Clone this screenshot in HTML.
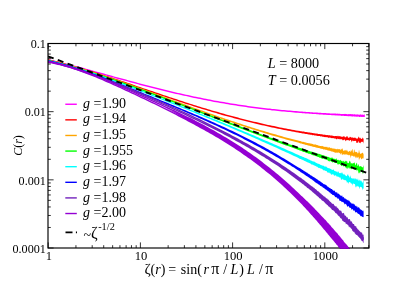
<!DOCTYPE html>
<html><head><meta charset="utf-8"><title>C(r)</title>
<style>
html,body{margin:0;padding:0;background:#fff;}
body{width:415px;height:292px;overflow:hidden;}
svg{display:block;will-change:transform;}
text{font-family:"Liberation Serif",serif;fill:#000;}
.tk{font-size:13.2px;}
.lg{font-size:14px;}
.ax{font-size:14px;}
</style></head><body>
<svg width="415" height="292" viewBox="0 0 415 292">
<rect x="0" y="0" width="415" height="292" fill="#fff"/>
<defs><clipPath id="cp"><rect x="48.0" y="41.5" width="322.5" height="207.2"/></clipPath><clipPath id="cp2"><rect x="332" y="246.5" width="22" height="2.2"/></clipPath></defs>
<g clip-path="url(#cp)">
<polygon points="48.0,59.0 50.0,59.5 52.0,59.9 54.0,60.4 56.0,60.9 58.0,61.4 60.0,61.9 62.0,62.4 64.0,62.9 66.0,63.4 68.0,63.9 70.0,64.4 72.0,65.0 74.0,65.5 76.0,66.0 78.0,66.5 80.0,67.1 82.0,67.6 84.0,68.1 86.0,68.7 88.0,69.2 90.0,69.8 92.0,70.3 94.0,70.9 96.0,71.4 98.0,72.0 100.0,72.5 102.0,73.1 104.0,73.6 106.0,74.2 108.0,74.7 110.0,75.3 112.0,75.8 114.0,76.4 116.0,76.9 118.0,77.5 120.0,78.0 122.0,78.6 124.0,79.1 126.0,79.6 128.0,80.2 130.0,80.7 132.0,81.3 134.0,81.8 136.0,82.3 138.0,82.9 140.0,83.4 142.0,83.9 144.0,84.5 146.0,85.0 148.0,85.5 150.0,86.0 152.0,86.5 154.0,87.0 156.0,87.5 158.0,88.0 160.0,88.5 162.0,89.0 164.0,89.5 166.0,90.0 168.0,90.5 170.0,91.0 172.0,91.5 174.0,91.9 176.0,92.4 178.0,92.9 180.0,93.3 182.0,93.8 184.0,94.2 186.0,94.7 188.0,95.1 190.0,95.5 192.0,96.0 194.0,96.4 196.0,96.8 198.0,97.2 200.0,97.6 202.0,98.0 204.0,98.4 206.0,98.8 208.0,99.2 210.0,99.6 212.0,100.0 214.0,100.4 216.0,100.7 218.0,101.1 220.0,101.4 222.0,101.8 224.0,102.1 226.0,102.5 228.0,102.8 230.0,103.2 232.0,103.5 234.0,103.8 236.0,104.1 238.0,104.4 240.0,104.7 242.0,105.0 244.0,105.3 246.0,105.6 248.0,105.9 250.0,106.2 252.0,106.4 254.0,106.7 256.0,107.0 258.0,107.2 260.0,107.5 262.0,107.7 264.0,108.0 266.0,108.2 268.0,108.4 270.0,108.6 272.0,108.9 274.0,109.1 276.0,109.3 278.0,109.5 280.0,109.7 282.0,109.9 284.0,110.1 286.0,110.3 288.0,110.4 290.0,110.6 292.0,110.8 294.0,111.0 296.0,111.1 298.0,111.3 300.0,111.4 300.5,111.5 301.0,111.5 301.5,111.5 302.0,111.6 302.5,111.6 303.0,111.7 303.5,111.7 304.0,111.7 304.5,111.8 305.0,111.8 305.5,111.8 306.0,111.9 306.5,111.9 307.0,111.9 307.5,112.0 308.0,112.0 308.5,112.0 309.0,112.1 309.5,112.1 310.0,112.2 310.5,112.2 311.0,112.2 311.5,112.3 312.0,112.3 312.5,112.3 313.0,112.4 313.5,112.4 314.0,112.4 314.5,112.4 315.0,112.5 315.5,112.5 316.0,112.5 316.5,112.6 317.0,112.6 317.5,112.6 318.0,112.7 318.5,112.7 319.0,112.7 319.5,112.8 320.0,112.7 320.5,112.8 321.0,112.8 321.5,112.9 322.0,112.9 322.5,112.9 323.0,113.0 323.5,113.0 324.0,113.0 324.5,113.1 325.0,113.1 325.5,113.1 326.0,113.1 326.5,113.2 327.0,113.2 327.5,113.2 328.0,113.2 328.5,113.2 329.0,113.3 329.5,113.3 330.0,113.4 330.5,113.4 331.0,113.4 331.5,113.4 332.0,113.4 332.5,113.5 333.0,113.4 333.5,113.6 334.0,113.5 334.5,113.6 335.0,113.5 335.5,113.5 336.0,113.5 336.5,113.7 337.0,113.7 337.5,113.6 338.0,113.8 338.5,113.7 339.0,113.8 339.5,113.8 340.0,113.8 340.5,113.9 341.0,113.9 341.5,114.0 342.0,113.9 342.5,113.9 343.0,113.9 343.5,114.0 344.0,113.9 344.5,114.1 345.0,113.8 345.5,114.0 346.0,114.1 346.5,114.1 347.0,114.2 347.5,114.2 348.0,114.3 348.5,113.9 349.0,114.3 349.5,114.1 350.0,114.2 350.5,114.0 351.0,114.0 351.5,114.2 352.0,114.3 352.5,114.0 353.0,114.5 353.5,114.2 354.0,114.5 354.5,114.0 355.0,114.6 355.5,114.5 356.0,114.5 356.5,114.6 357.0,114.5 357.5,114.4 358.0,114.2 358.5,114.7 359.0,114.7 359.5,114.7 360.0,114.5 360.5,114.2 361.0,114.7 361.5,114.7 362.0,114.6 362.5,114.7 363.0,114.6 363.5,114.9 364.0,114.8 364.5,114.3 364.8,114.8 364.8,117.0 364.5,116.9 364.0,116.9 363.5,117.1 363.0,116.8 362.5,117.0 362.0,116.9 361.5,116.9 361.0,116.7 360.5,116.7 360.0,116.9 359.5,116.9 359.0,116.9 358.5,116.6 358.0,116.6 357.5,116.7 357.0,116.8 356.5,116.8 356.0,116.5 355.5,116.4 355.0,116.7 354.5,116.4 354.0,116.4 353.5,116.3 353.0,116.4 352.5,116.5 352.0,116.5 351.5,116.2 351.0,116.4 350.5,116.1 350.0,116.5 349.5,116.1 349.0,116.2 348.5,116.3 348.0,116.2 347.5,116.0 347.0,116.2 346.5,116.0 346.0,115.9 345.5,115.9 345.0,116.1 344.5,115.9 344.0,116.0 343.5,115.8 343.0,115.8 342.5,115.8 342.0,115.9 341.5,115.7 341.0,115.9 340.5,115.6 340.0,115.6 339.5,115.6 339.0,115.7 338.5,115.6 338.0,115.4 337.5,115.6 337.0,115.4 336.5,115.4 336.0,115.3 335.5,115.5 335.0,115.4 334.5,115.3 334.0,115.2 333.5,115.2 333.0,115.2 332.5,115.2 332.0,115.2 331.5,115.2 331.0,115.1 330.5,115.0 330.0,115.1 329.5,115.0 329.0,114.9 328.5,115.0 328.0,114.9 327.5,114.9 327.0,114.8 326.5,114.9 326.0,114.8 325.5,114.7 325.0,114.7 324.5,114.7 324.0,114.7 323.5,114.7 323.0,114.7 322.5,114.6 322.0,114.6 321.5,114.5 321.0,114.5 320.5,114.5 320.0,114.4 319.5,114.4 319.0,114.4 318.5,114.3 318.0,114.3 317.5,114.2 317.0,114.2 316.5,114.2 316.0,114.1 315.5,114.1 315.0,114.1 314.5,114.1 314.0,114.0 313.5,114.0 313.0,113.9 312.5,113.9 312.0,113.9 311.5,113.8 311.0,113.8 310.5,113.8 310.0,113.7 309.5,113.7 309.0,113.7 308.5,113.6 308.0,113.6 307.5,113.6 307.0,113.5 306.5,113.5 306.0,113.5 305.5,113.4 305.0,113.4 304.5,113.3 304.0,113.3 303.5,113.3 303.0,113.2 302.5,113.2 302.0,113.2 301.5,113.1 301.0,113.1 300.5,113.0 300.0,113.0 298.0,112.8 296.0,112.7 294.0,112.5 292.0,112.3 290.0,112.1 288.0,112.0 286.0,111.8 284.0,111.6 282.0,111.4 280.0,111.2 278.0,111.0 276.0,110.8 274.0,110.6 272.0,110.4 270.0,110.1 268.0,109.9 266.0,109.7 264.0,109.5 262.0,109.2 260.0,109.0 258.0,108.7 256.0,108.5 254.0,108.2 252.0,107.9 250.0,107.7 248.0,107.4 246.0,107.1 244.0,106.8 242.0,106.5 240.0,106.2 238.0,105.9 236.0,105.6 234.0,105.3 232.0,105.0 230.0,104.7 228.0,104.3 226.0,104.0 224.0,103.6 222.0,103.3 220.0,102.9 218.0,102.6 216.0,102.2 214.0,101.9 212.0,101.5 210.0,101.1 208.0,100.7 206.0,100.3 204.0,99.9 202.0,99.5 200.0,99.1 198.0,98.7 196.0,98.3 194.0,97.9 192.0,97.5 190.0,97.0 188.0,96.6 186.0,96.1 184.0,95.7 182.0,95.2 180.0,94.8 178.0,94.3 176.0,93.9 174.0,93.4 172.0,92.9 170.0,92.4 168.0,92.0 166.0,91.5 164.0,91.0 162.0,90.5 160.0,90.0 158.0,89.5 156.0,89.0 154.0,88.5 152.0,88.0 150.0,87.5 148.0,86.9 146.0,86.4 144.0,85.9 142.0,85.4 140.0,84.9 138.0,84.3 136.0,83.8 134.0,83.3 132.0,82.7 130.0,82.2 128.0,81.6 126.0,81.1 124.0,80.6 122.0,80.0 120.0,79.5 118.0,78.9 116.0,78.4 114.0,77.8 112.0,77.3 110.0,76.7 108.0,76.2 106.0,75.6 104.0,75.1 102.0,74.5 100.0,74.0 98.0,73.4 96.0,72.9 94.0,72.3 92.0,71.8 90.0,71.2 88.0,70.7 86.0,70.1 84.0,69.6 82.0,69.1 80.0,68.5 78.0,68.0 76.0,67.5 74.0,66.9 72.0,66.4 70.0,65.9 68.0,65.4 66.0,64.9 64.0,64.3 62.0,63.8 60.0,63.3 58.0,62.8 56.0,62.4 54.0,61.9 52.0,61.4 50.0,60.9 48.0,60.4" fill="#ff00ff"/>
<polygon points="48.0,59.3 50.0,59.7 52.0,60.2 54.0,60.7 56.0,61.2 58.0,61.6 60.0,62.1 62.0,62.6 64.0,63.2 66.0,63.7 68.0,64.2 70.0,64.8 72.0,65.3 74.0,65.9 76.0,66.4 78.0,67.0 80.0,67.6 82.0,68.2 84.0,68.8 86.0,69.4 88.0,70.0 90.0,70.6 92.0,71.2 94.0,71.8 96.0,72.5 98.0,73.1 100.0,73.7 102.0,74.4 104.0,75.0 106.0,75.7 108.0,76.3 110.0,77.0 112.0,77.6 114.0,78.3 116.0,78.9 118.0,79.6 120.0,80.3 122.0,80.9 124.0,81.6 126.0,82.3 128.0,83.0 130.0,83.6 132.0,84.3 134.0,85.0 136.0,85.7 138.0,86.4 140.0,87.0 142.0,87.7 144.0,88.4 146.0,89.1 148.0,89.8 150.0,90.4 152.0,91.1 154.0,91.8 156.0,92.5 158.0,93.1 160.0,93.8 162.0,94.5 164.0,95.2 166.0,95.8 168.0,96.5 170.0,97.2 172.0,97.8 174.0,98.5 176.0,99.1 178.0,99.8 180.0,100.4 182.0,101.1 184.0,101.7 186.0,102.4 188.0,103.0 190.0,103.7 192.0,104.3 194.0,104.9 196.0,105.5 198.0,106.2 200.0,106.8 202.0,107.4 204.0,108.0 206.0,108.6 208.0,109.2 210.0,109.8 212.0,110.4 214.0,111.0 216.0,111.5 218.0,112.1 220.0,112.7 222.0,113.3 224.0,113.8 226.0,114.4 228.0,114.9 230.0,115.5 232.0,116.0 234.0,116.6 236.0,117.1 238.0,117.6 240.0,118.2 242.0,118.7 244.0,119.2 246.0,119.7 248.0,120.2 250.0,120.7 252.0,121.2 254.0,121.7 256.0,122.1 258.0,122.6 260.0,123.1 262.0,123.5 264.0,124.0 266.0,124.4 268.0,124.9 270.0,125.3 272.0,125.7 274.0,126.1 276.0,126.6 278.0,127.0 280.0,127.4 282.0,127.8 284.0,128.2 286.0,128.6 288.0,128.9 290.0,129.3 292.0,129.7 294.0,130.1 296.0,130.4 298.0,130.8 300.0,131.1 300.5,131.2 301.0,131.3 301.5,131.2 302.0,131.4 302.5,131.5 303.0,131.5 303.5,131.6 304.0,131.6 304.5,131.8 305.0,131.9 305.5,131.9 306.0,132.1 306.5,132.1 307.0,132.3 307.5,132.2 308.0,132.3 308.5,132.4 309.0,132.6 309.5,132.5 310.0,132.6 310.5,132.7 311.0,132.8 311.5,132.8 312.0,133.0 312.5,133.0 313.0,133.1 313.5,133.2 314.0,133.3 314.5,133.3 315.0,133.4 315.5,133.6 316.0,133.6 316.5,133.6 317.0,133.8 317.5,133.6 318.0,133.9 318.5,134.0 319.0,134.0 319.5,134.0 320.0,133.9 320.5,134.3 321.0,134.2 321.5,134.2 322.0,134.2 322.5,134.6 323.0,134.5 323.5,134.8 324.0,134.7 324.5,134.8 325.0,134.5 325.5,134.9 326.0,135.1 326.5,135.1 327.0,135.2 327.5,135.1 328.0,135.1 328.5,135.3 329.0,135.5 329.5,134.9 330.0,135.5 330.5,135.7 331.0,135.1 331.5,135.8 332.0,135.5 332.5,135.7 333.0,135.7 333.5,135.9 334.0,136.0 334.5,136.2 335.0,136.0 335.5,136.1 336.0,136.1 336.5,135.9 337.0,136.2 337.5,136.3 338.0,135.6 338.5,136.4 339.0,135.9 339.5,136.0 340.0,136.8 340.5,136.0 341.0,136.8 341.5,136.7 342.0,136.5 342.5,137.1 343.0,136.4 343.5,136.2 344.0,136.6 344.5,136.2 345.0,137.4 345.5,137.1 346.0,137.4 346.5,135.9 347.0,136.8 347.5,136.0 348.0,137.7 348.5,137.7 349.0,137.8 349.5,137.5 350.0,136.4 350.5,137.2 351.0,137.1 351.5,137.8 352.0,137.6 352.5,137.5 353.0,137.5 353.5,138.0 354.0,137.7 354.5,137.4 355.0,138.1 355.5,137.5 356.0,138.5 356.5,138.5 357.0,138.4 357.5,138.5 358.0,138.6 358.5,136.6 359.0,136.9 359.5,138.1 360.0,138.4 360.5,137.4 361.0,138.9 361.5,139.1 362.0,138.6 362.5,137.3 363.0,139.2 363.5,137.9 363.6,138.4 363.6,142.6 363.5,143.7 363.0,141.5 362.5,142.2 362.0,141.4 361.5,142.2 361.0,141.5 360.5,143.4 360.0,142.8 359.5,142.6 359.0,143.2 358.5,141.0 358.0,141.8 357.5,143.1 357.0,143.1 356.5,143.0 356.0,140.7 355.5,141.0 355.0,140.7 354.5,141.1 354.0,141.0 353.5,140.7 353.0,141.5 352.5,140.4 352.0,140.5 351.5,142.4 351.0,140.2 350.5,140.1 350.0,140.1 349.5,140.8 349.0,141.1 348.5,140.0 348.0,140.1 347.5,140.2 347.0,139.9 346.5,140.1 346.0,141.2 345.5,141.1 345.0,139.7 344.5,139.6 344.0,139.8 343.5,140.0 343.0,140.6 342.5,140.1 342.0,139.2 341.5,139.3 341.0,139.2 340.5,139.0 340.0,139.7 339.5,139.0 339.0,138.7 338.5,139.2 338.0,138.7 337.5,138.6 337.0,139.4 336.5,139.3 336.0,138.8 335.5,138.7 335.0,138.2 334.5,138.8 334.0,138.3 333.5,138.1 333.0,138.4 332.5,138.1 332.0,138.0 331.5,138.2 331.0,137.7 330.5,137.8 330.0,137.8 329.5,137.5 329.0,137.7 328.5,137.7 328.0,137.7 327.5,137.3 327.0,137.1 326.5,137.2 326.0,137.2 325.5,137.0 325.0,137.2 324.5,136.9 324.0,137.0 323.5,136.8 323.0,136.7 322.5,136.8 322.0,136.5 321.5,136.3 321.0,136.4 320.5,136.5 320.0,136.1 319.5,136.0 319.0,136.1 318.5,136.0 318.0,136.0 317.5,135.9 317.0,135.8 316.5,135.7 316.0,135.5 315.5,135.5 315.0,135.6 314.5,135.5 314.0,135.3 313.5,135.1 313.0,135.2 312.5,135.2 312.0,135.0 311.5,134.8 311.0,134.8 310.5,134.7 310.0,134.7 309.5,134.6 309.0,134.5 308.5,134.5 308.0,134.3 307.5,134.2 307.0,134.1 306.5,134.0 306.0,133.9 305.5,133.9 305.0,133.7 304.5,133.7 304.0,133.6 303.5,133.6 303.0,133.4 302.5,133.4 302.0,133.3 301.5,133.3 301.0,133.1 300.5,133.1 300.0,132.9 298.0,132.5 296.0,132.2 294.0,131.8 292.0,131.4 290.0,131.1 288.0,130.7 286.0,130.3 284.0,129.9 282.0,129.5 280.0,129.1 278.0,128.7 276.0,128.3 274.0,127.8 272.0,127.4 270.0,127.0 268.0,126.5 266.0,126.1 264.0,125.6 262.0,125.2 260.0,124.7 258.0,124.2 256.0,123.8 254.0,123.3 252.0,122.8 250.0,122.3 248.0,121.8 246.0,121.3 244.0,120.8 242.0,120.3 240.0,119.8 238.0,119.2 236.0,118.7 234.0,118.2 232.0,117.6 230.0,117.1 228.0,116.5 226.0,116.0 224.0,115.4 222.0,114.9 220.0,114.3 218.0,113.7 216.0,113.1 214.0,112.5 212.0,111.9 210.0,111.3 208.0,110.7 206.0,110.1 204.0,109.5 202.0,108.9 200.0,108.3 198.0,107.7 196.0,107.0 194.0,106.4 192.0,105.8 190.0,105.1 188.0,104.5 186.0,103.9 184.0,103.2 182.0,102.6 180.0,101.9 178.0,101.3 176.0,100.6 174.0,99.9 172.0,99.3 170.0,98.6 168.0,98.0 166.0,97.3 164.0,96.6 162.0,95.9 160.0,95.3 158.0,94.6 156.0,93.9 154.0,93.2 152.0,92.6 150.0,91.9 148.0,91.2 146.0,90.5 144.0,89.8 142.0,89.2 140.0,88.5 138.0,87.8 136.0,87.1 134.0,86.4 132.0,85.8 130.0,85.1 128.0,84.4 126.0,83.7 124.0,83.1 122.0,82.4 120.0,81.7 118.0,81.1 116.0,80.4 114.0,79.7 112.0,79.1 110.0,78.4 108.0,77.8 106.0,77.1 104.0,76.5 102.0,75.8 100.0,75.2 98.0,74.5 96.0,73.9 94.0,73.3 92.0,72.7 90.0,72.0 88.0,71.4 86.0,70.8 84.0,70.2 82.0,69.6 80.0,69.0 78.0,68.5 76.0,67.9 74.0,67.3 72.0,66.8 70.0,66.2 68.0,65.7 66.0,65.1 64.0,64.6 62.0,64.1 60.0,63.6 58.0,63.1 56.0,62.6 54.0,62.1 52.0,61.7 50.0,61.2 48.0,60.7" fill="#ff0000"/>
<polygon points="48.0,59.5 50.0,60.0 52.0,60.4 54.0,60.9 56.0,61.4 58.0,61.8 60.0,62.3 62.0,62.8 64.0,63.4 66.0,63.9 68.0,64.4 70.0,65.0 72.0,65.5 74.0,66.1 76.0,66.6 78.0,67.2 80.0,67.8 82.0,68.4 84.0,69.0 86.0,69.6 88.0,70.2 90.0,70.8 92.0,71.5 94.0,72.1 96.0,72.7 98.0,73.4 100.0,74.0 102.0,74.7 104.0,75.3 106.0,76.0 108.0,76.7 110.0,77.3 112.0,78.0 114.0,78.7 116.0,79.4 118.0,80.1 120.0,80.8 122.0,81.5 124.0,82.2 126.0,82.9 128.0,83.6 130.0,84.3 132.0,85.0 134.0,85.8 136.0,86.5 138.0,87.2 140.0,87.9 142.0,88.6 144.0,89.4 146.0,90.1 148.0,90.8 150.0,91.6 152.0,92.3 154.0,93.0 156.0,93.8 158.0,94.5 160.0,95.2 162.0,96.0 164.0,96.7 166.0,97.5 168.0,98.2 170.0,98.9 172.0,99.7 174.0,100.4 176.0,101.1 178.0,101.9 180.0,102.6 182.0,103.3 184.0,104.1 186.0,104.8 188.0,105.5 190.0,106.3 192.0,107.0 194.0,107.7 196.0,108.4 198.0,109.1 200.0,109.9 202.0,110.6 204.0,111.3 206.0,112.0 208.0,112.7 210.0,113.4 212.0,114.1 214.0,114.8 216.0,115.5 218.0,116.2 220.0,116.9 222.0,117.6 224.0,118.3 226.0,118.9 228.0,119.6 230.0,120.3 232.0,121.0 234.0,121.6 236.0,122.3 238.0,122.9 240.0,123.6 242.0,124.3 244.0,124.9 246.0,125.5 248.0,126.2 250.0,126.8 252.0,127.4 254.0,128.1 256.0,128.7 258.0,129.3 260.0,129.9 262.0,130.5 264.0,131.1 266.0,131.7 268.0,132.3 270.0,132.9 272.0,133.5 274.0,134.1 276.0,134.6 278.0,135.2 280.0,135.8 282.0,136.3 284.0,136.9 286.0,137.4 288.0,138.0 290.0,138.5 292.0,139.1 294.0,139.6 296.0,140.1 298.0,140.6 300.0,141.1 300.5,141.1 301.0,141.4 301.5,141.5 302.0,141.7 302.5,141.8 303.0,141.9 303.5,141.8 304.0,142.0 304.5,142.2 305.0,142.2 305.5,142.5 306.0,142.6 306.5,142.7 307.0,142.9 307.5,142.9 308.0,143.0 308.5,143.3 309.0,143.3 309.5,143.2 310.0,143.6 310.5,143.6 311.0,143.6 311.5,143.8 312.0,143.7 312.5,144.1 313.0,143.9 313.5,144.4 314.0,144.5 314.5,144.5 315.0,144.6 315.5,144.6 316.0,144.6 316.5,145.1 317.0,144.9 317.5,144.9 318.0,145.4 318.5,145.4 319.0,145.7 319.5,145.8 320.0,145.9 320.5,145.9 321.0,146.1 321.5,146.2 322.0,145.7 322.5,146.3 323.0,146.1 323.5,146.7 324.0,146.6 324.5,146.9 325.0,146.7 325.5,146.7 326.0,147.2 326.5,146.9 327.0,146.6 327.5,147.5 328.0,147.5 328.5,147.6 329.0,147.4 329.5,147.0 330.0,148.1 330.5,148.2 331.0,147.4 331.5,148.5 332.0,147.8 332.5,148.7 333.0,148.6 333.5,148.6 334.0,148.8 334.5,148.7 335.0,148.6 335.5,149.0 336.0,149.2 336.5,149.0 337.0,149.4 337.5,148.6 338.0,149.4 338.5,148.9 339.0,149.2 339.5,149.1 340.0,149.5 340.5,150.2 341.0,148.4 341.5,149.8 342.0,148.5 342.5,148.5 343.0,150.3 343.5,150.9 344.0,150.5 344.5,150.1 345.0,151.2 345.5,149.8 346.0,150.5 346.5,150.8 347.0,149.6 347.5,151.3 348.0,151.5 348.5,151.9 349.0,151.3 349.5,150.8 350.0,151.4 350.5,152.1 351.0,149.7 351.5,151.4 352.0,149.7 352.5,148.7 353.0,152.7 353.5,152.8 354.0,149.6 354.5,149.7 355.0,152.5 355.5,151.8 356.0,151.7 356.5,152.3 357.0,151.7 357.5,153.3 358.0,153.5 358.5,152.8 359.0,149.5 359.5,152.1 360.0,153.5 360.5,154.0 361.0,153.4 361.5,153.5 362.0,153.0 362.5,152.7 363.0,152.8 363.5,154.6 363.6,154.0 363.6,157.6 363.5,158.1 363.0,158.9 362.5,157.9 362.0,158.8 361.5,159.6 361.0,158.6 360.5,157.1 360.0,158.8 359.5,158.3 359.0,160.8 358.5,156.6 358.0,157.5 357.5,158.0 357.0,156.5 356.5,158.5 356.0,156.1 355.5,158.6 355.0,156.5 354.5,156.8 354.0,155.5 353.5,157.1 353.0,156.1 352.5,156.0 352.0,155.2 351.5,156.5 351.0,155.0 350.5,158.4 350.0,154.9 349.5,154.7 349.0,155.7 348.5,154.9 348.0,154.7 347.5,154.8 347.0,154.8 346.5,154.2 346.0,154.5 345.5,154.4 345.0,154.2 344.5,155.0 344.0,153.7 343.5,154.8 343.0,154.0 342.5,154.8 342.0,155.3 341.5,153.2 341.0,152.9 340.5,154.7 340.0,153.3 339.5,153.1 339.0,152.7 338.5,152.5 338.0,152.5 337.5,152.7 337.0,152.7 336.5,152.6 336.0,152.7 335.5,152.6 335.0,153.1 334.5,152.3 334.0,151.9 333.5,151.8 333.0,152.3 332.5,151.4 332.0,151.3 331.5,151.6 331.0,151.4 330.5,150.8 330.0,151.0 329.5,150.8 329.0,150.5 328.5,150.7 328.0,150.2 327.5,150.6 327.0,149.9 326.5,149.8 326.0,150.1 325.5,149.8 325.0,149.5 324.5,149.4 324.0,149.2 323.5,149.8 323.0,149.1 322.5,149.0 322.0,148.7 321.5,148.7 321.0,148.9 320.5,148.6 320.0,148.2 319.5,148.2 319.0,148.0 318.5,147.9 318.0,147.9 317.5,147.8 317.0,147.8 316.5,147.8 316.0,147.3 315.5,147.6 315.0,147.0 314.5,146.9 314.0,147.0 313.5,147.0 313.0,146.6 312.5,146.7 312.0,146.6 311.5,146.2 311.0,146.1 310.5,146.2 310.0,145.8 309.5,145.8 309.0,145.7 308.5,145.4 308.0,145.5 307.5,145.2 307.0,145.0 306.5,145.0 306.0,144.8 305.5,144.9 305.0,144.6 304.5,144.4 304.0,144.3 303.5,144.3 303.0,144.0 302.5,143.9 302.0,143.7 301.5,143.6 301.0,143.6 300.5,143.4 300.0,143.3 298.0,142.6 296.0,142.1 294.0,141.6 292.0,141.0 290.0,140.5 288.0,139.9 286.0,139.4 284.0,138.8 282.0,138.3 280.0,137.7 278.0,137.1 276.0,136.5 274.0,136.0 272.0,135.4 270.0,134.8 268.0,134.2 266.0,133.6 264.0,133.0 262.0,132.3 260.0,131.7 258.0,131.1 256.0,130.5 254.0,129.8 252.0,129.2 250.0,128.5 248.0,127.9 246.0,127.2 244.0,126.6 242.0,125.9 240.0,125.3 238.0,124.6 236.0,124.0 234.0,123.3 232.0,122.6 230.0,121.9 228.0,121.2 226.0,120.6 224.0,119.9 222.0,119.2 220.0,118.5 218.0,117.8 216.0,117.1 214.0,116.4 212.0,115.7 210.0,115.0 208.0,114.3 206.0,113.5 204.0,112.8 202.0,112.1 200.0,111.4 198.0,110.7 196.0,109.9 194.0,109.2 192.0,108.5 190.0,107.7 188.0,107.0 186.0,106.3 184.0,105.6 182.0,104.8 180.0,104.1 178.0,103.3 176.0,102.6 174.0,101.9 172.0,101.1 170.0,100.4 168.0,99.7 166.0,98.9 164.0,98.2 162.0,97.4 160.0,96.7 158.0,96.0 156.0,95.2 154.0,94.5 152.0,93.8 150.0,93.0 148.0,92.3 146.0,91.6 144.0,90.8 142.0,90.1 140.0,89.4 138.0,88.6 136.0,87.9 134.0,87.2 132.0,86.5 130.0,85.8 128.0,85.1 126.0,84.3 124.0,83.6 122.0,82.9 120.0,82.2 118.0,81.5 116.0,80.8 114.0,80.2 112.0,79.5 110.0,78.8 108.0,78.1 106.0,77.4 104.0,76.8 102.0,76.1 100.0,75.5 98.0,74.8 96.0,74.2 94.0,73.5 92.0,72.9 90.0,72.3 88.0,71.7 86.0,71.0 84.0,70.4 82.0,69.8 80.0,69.2 78.0,68.7 76.0,68.1 74.0,67.5 72.0,67.0 70.0,66.4 68.0,65.9 66.0,65.3 64.0,64.8 62.0,64.3 60.0,63.8 58.0,63.3 56.0,62.8 54.0,62.3 52.0,61.9 50.0,61.4 48.0,61.0" fill="#ffa500"/>
<polygon points="48.0,59.7 50.0,60.2 52.0,60.7 54.0,61.2 56.0,61.7 58.0,62.2 60.0,62.7 62.0,63.2 64.0,63.8 66.0,64.3 68.0,64.9 70.0,65.4 72.0,66.0 74.0,66.6 76.0,67.2 78.0,67.7 80.0,68.3 82.0,68.9 84.0,69.5 86.0,70.2 88.0,70.8 90.0,71.4 92.0,72.0 94.0,72.7 96.0,73.3 98.0,74.0 100.0,74.6 102.0,75.3 104.0,75.9 106.0,76.6 108.0,77.3 110.0,77.9 112.0,78.6 114.0,79.3 116.0,80.0 118.0,80.7 120.0,81.4 122.0,82.1 124.0,82.8 126.0,83.5 128.0,84.2 130.0,84.9 132.0,85.6 134.0,86.3 136.0,87.1 138.0,87.8 140.0,88.5 142.0,89.2 144.0,90.0 146.0,90.7 148.0,91.5 150.0,92.2 152.0,92.9 154.0,93.7 156.0,94.4 158.0,95.2 160.0,95.9 162.0,96.7 164.0,97.4 166.0,98.2 168.0,99.0 170.0,99.7 172.0,100.5 174.0,101.2 176.0,102.0 178.0,102.8 180.0,103.5 182.0,104.3 184.0,105.1 186.0,105.8 188.0,106.6 190.0,107.4 192.0,108.1 194.0,108.9 196.0,109.7 198.0,110.4 200.0,111.2 202.0,111.9 204.0,112.7 206.0,113.5 208.0,114.2 210.0,115.0 212.0,115.8 214.0,116.5 216.0,117.3 218.0,118.0 220.0,118.8 222.0,119.6 224.0,120.3 226.0,121.1 228.0,121.8 230.0,122.6 232.0,123.3 234.0,124.1 236.0,124.8 238.0,125.6 240.0,126.3 242.0,127.1 244.0,127.8 246.0,128.6 248.0,129.3 250.0,130.1 252.0,130.8 254.0,131.5 256.0,132.3 258.0,133.0 260.0,133.7 262.0,134.5 264.0,135.2 266.0,135.9 268.0,136.6 270.0,137.4 272.0,138.1 274.0,138.8 276.0,139.5 278.0,140.2 280.0,140.9 282.0,141.6 284.0,142.3 286.0,143.0 288.0,143.7 290.0,144.4 292.0,145.1 294.0,145.8 296.0,146.5 298.0,147.2 300.0,147.9 300.5,148.0 301.0,148.2 301.5,148.3 302.0,148.4 302.5,148.6 303.0,148.9 303.5,149.1 304.0,149.2 304.5,149.2 305.0,149.4 305.5,149.6 306.0,149.8 306.5,150.0 307.0,150.0 307.5,150.3 308.0,150.5 308.5,150.7 309.0,150.9 309.5,151.0 310.0,151.2 310.5,151.4 311.0,151.6 311.5,151.7 312.0,151.6 312.5,152.1 313.0,152.2 313.5,152.3 314.0,152.4 314.5,152.5 315.0,152.5 315.5,152.8 316.0,153.1 316.5,153.1 317.0,153.3 317.5,153.7 318.0,153.5 318.5,154.0 319.0,153.7 319.5,154.1 320.0,154.1 320.5,154.6 321.0,154.5 321.5,154.7 322.0,155.1 322.5,155.3 323.0,155.5 323.5,155.3 324.0,155.1 324.5,156.0 325.0,155.7 325.5,156.2 326.0,156.3 326.5,156.2 327.0,156.5 327.5,156.9 328.0,156.7 328.5,156.9 329.0,157.2 329.5,157.6 330.0,157.7 330.5,157.8 331.0,158.1 331.5,157.7 332.0,157.3 332.5,157.8 333.0,158.6 333.5,158.8 334.0,158.4 334.5,159.1 335.0,158.7 335.5,159.4 336.0,158.8 336.5,158.3 337.0,159.9 337.5,159.9 338.0,159.5 338.5,160.1 339.0,160.4 339.5,160.4 340.0,159.9 340.5,159.7 341.0,160.7 341.5,161.1 342.0,160.4 342.5,161.5 343.0,161.5 343.5,161.2 344.0,160.2 344.5,162.1 345.0,161.9 345.5,160.6 346.0,161.2 346.5,161.6 347.0,160.4 347.5,162.9 348.0,163.1 348.5,163.2 349.0,162.5 349.5,160.7 350.0,161.1 350.5,162.1 351.0,164.1 351.5,162.9 352.0,163.3 352.5,163.4 353.0,163.6 353.5,162.8 354.0,163.4 354.5,162.1 355.0,163.8 355.5,165.4 356.0,164.4 356.5,162.7 357.0,162.9 357.5,166.2 358.0,165.6 358.5,163.8 359.0,166.3 359.5,166.7 360.0,166.0 360.5,166.1 361.0,166.8 361.5,166.4 362.0,166.8 362.5,167.6 363.0,167.2 363.5,165.3 363.6,165.3 363.6,171.8 363.5,172.0 363.0,174.6 362.5,172.5 362.0,171.5 361.5,172.0 361.0,171.5 360.5,170.7 360.0,173.7 359.5,172.0 359.0,173.4 358.5,173.1 358.0,170.0 357.5,169.9 357.0,171.5 356.5,170.0 356.0,169.2 355.5,170.1 355.0,169.1 354.5,169.9 354.0,169.7 353.5,169.2 353.0,168.6 352.5,168.6 352.0,168.3 351.5,169.6 351.0,168.5 350.5,167.9 350.0,169.5 349.5,167.3 349.0,169.1 348.5,167.0 348.0,168.3 347.5,168.9 347.0,166.8 346.5,168.8 346.0,167.9 345.5,167.2 345.0,166.5 344.5,166.2 344.0,165.5 343.5,166.8 343.0,166.1 342.5,165.2 342.0,165.4 341.5,166.3 341.0,165.5 340.5,164.8 340.0,164.6 339.5,164.1 339.0,163.9 338.5,164.2 338.0,165.0 337.5,163.9 337.0,163.3 336.5,163.0 336.0,162.9 335.5,162.9 335.0,162.5 334.5,162.7 334.0,162.8 333.5,162.1 333.0,161.8 332.5,162.8 332.0,161.9 331.5,161.7 331.0,161.2 330.5,161.0 330.0,161.4 329.5,161.5 329.0,160.5 328.5,161.2 328.0,160.9 327.5,159.9 327.0,159.8 326.5,159.7 326.0,159.5 325.5,159.6 325.0,159.2 324.5,159.3 324.0,158.8 323.5,158.8 323.0,158.6 322.5,158.9 322.0,158.4 321.5,158.5 321.0,158.0 320.5,157.7 320.0,157.7 319.5,157.7 319.0,157.2 318.5,157.0 318.0,156.9 317.5,156.7 317.0,156.6 316.5,156.2 316.0,156.3 315.5,155.9 315.0,156.1 314.5,155.6 314.0,155.5 313.5,155.3 313.0,155.4 312.5,155.0 312.0,154.7 311.5,154.7 311.0,154.4 310.5,154.1 310.0,153.9 309.5,153.8 309.0,153.7 308.5,153.7 308.0,153.4 307.5,153.1 307.0,153.2 306.5,152.9 306.0,152.7 305.5,152.6 305.0,152.3 304.5,152.0 304.0,152.0 303.5,151.9 303.0,151.7 302.5,151.4 302.0,151.2 301.5,151.1 301.0,150.8 300.5,150.7 300.0,150.5 298.0,149.7 296.0,149.0 294.0,148.3 292.0,147.6 290.0,146.8 288.0,146.1 286.0,145.4 284.0,144.7 282.0,143.9 280.0,143.2 278.0,142.5 276.0,141.7 274.0,141.0 272.0,140.3 270.0,139.5 268.0,138.8 266.0,138.0 264.0,137.3 262.0,136.5 260.0,135.8 258.0,135.0 256.0,134.3 254.0,133.5 252.0,132.8 250.0,132.0 248.0,131.2 246.0,130.5 244.0,129.7 242.0,129.0 240.0,128.2 238.0,127.4 236.0,126.7 234.0,125.9 232.0,125.1 230.0,124.4 228.0,123.6 226.0,122.8 224.0,122.0 222.0,121.3 220.0,120.5 218.0,119.7 216.0,118.9 214.0,118.2 212.0,117.4 210.0,116.6 208.0,115.8 206.0,115.1 204.0,114.3 202.0,113.5 200.0,112.7 198.0,111.9 196.0,111.2 194.0,110.4 192.0,109.6 190.0,108.8 188.0,108.1 186.0,107.3 184.0,106.5 182.0,105.8 180.0,105.0 178.0,104.2 176.0,103.5 174.0,102.7 172.0,101.9 170.0,101.2 168.0,100.4 166.0,99.7 164.0,98.9 162.0,98.1 160.0,97.4 158.0,96.6 156.0,95.9 154.0,95.1 152.0,94.4 150.0,93.6 148.0,92.9 146.0,92.2 144.0,91.4 142.0,90.7 140.0,90.0 138.0,89.2 136.0,88.5 134.0,87.8 132.0,87.1 130.0,86.3 128.0,85.6 126.0,84.9 124.0,84.2 122.0,83.5 120.0,82.8 118.0,82.1 116.0,81.4 114.0,80.7 112.0,80.1 110.0,79.4 108.0,78.7 106.0,78.0 104.0,77.4 102.0,76.7 100.0,76.1 98.0,75.4 96.0,74.8 94.0,74.1 92.0,73.5 90.0,72.9 88.0,72.2 86.0,71.6 84.0,71.0 82.0,70.4 80.0,69.8 78.0,69.2 76.0,68.6 74.0,68.0 72.0,67.5 70.0,66.9 68.0,66.3 66.0,65.8 64.0,65.2 62.0,64.7 60.0,64.2 58.0,63.6 56.0,63.1 54.0,62.6 52.0,62.1 50.0,61.6 48.0,61.1" fill="#00ff00"/>
<polygon points="48.0,59.9 50.0,60.4 52.0,60.8 54.0,61.3 56.0,61.8 58.0,62.3 60.0,62.8 62.0,63.3 64.0,63.9 66.0,64.4 68.0,65.0 70.0,65.5 72.0,66.1 74.0,66.7 76.0,67.3 78.0,67.9 80.0,68.6 82.0,69.2 84.0,69.8 86.0,70.5 88.0,71.1 90.0,71.8 92.0,72.4 94.0,73.1 96.0,73.8 98.0,74.5 100.0,75.2 102.0,75.9 104.0,76.6 106.0,77.3 108.0,78.0 110.0,78.7 112.0,79.4 114.0,80.2 116.0,80.9 118.0,81.6 120.0,82.3 122.0,83.1 124.0,83.8 126.0,84.6 128.0,85.3 130.0,86.1 132.0,86.8 134.0,87.6 136.0,88.3 138.0,89.1 140.0,89.9 142.0,90.6 144.0,91.4 146.0,92.2 148.0,92.9 150.0,93.7 152.0,94.5 154.0,95.2 156.0,96.0 158.0,96.8 160.0,97.6 162.0,98.4 164.0,99.1 166.0,99.9 168.0,100.7 170.0,101.5 172.0,102.3 174.0,103.0 176.0,103.8 178.0,104.6 180.0,105.4 182.0,106.2 184.0,107.0 186.0,107.8 188.0,108.6 190.0,109.4 192.0,110.2 194.0,111.0 196.0,111.8 198.0,112.6 200.0,113.4 202.0,114.2 204.0,115.0 206.0,115.8 208.0,116.6 210.0,117.4 212.0,118.2 214.0,119.0 216.0,119.8 218.0,120.6 220.0,121.5 222.0,122.3 224.0,123.1 226.0,123.9 228.0,124.7 230.0,125.6 232.0,126.4 234.0,127.2 236.0,128.0 238.0,128.9 240.0,129.7 242.0,130.6 244.0,131.4 246.0,132.2 248.0,133.1 250.0,133.9 252.0,134.8 254.0,135.6 256.0,136.5 258.0,137.3 260.0,138.2 262.0,139.0 264.0,139.9 266.0,140.7 268.0,141.6 270.0,142.5 272.0,143.3 274.0,144.2 276.0,145.1 278.0,146.0 280.0,146.8 282.0,147.7 284.0,148.6 286.0,149.5 288.0,150.4 290.0,151.3 292.0,152.1 294.0,153.0 296.0,153.9 298.0,154.8 300.0,155.7 300.5,155.9 301.0,156.1 301.5,156.3 302.0,156.5 302.5,156.8 303.0,157.0 303.5,157.1 304.0,157.2 304.5,157.7 305.0,157.7 305.5,157.9 306.0,158.1 306.5,158.3 307.0,158.8 307.5,158.8 308.0,159.0 308.5,159.4 309.0,159.5 309.5,159.7 310.0,160.0 310.5,160.4 311.0,160.6 311.5,160.8 312.0,161.0 312.5,161.2 313.0,161.5 313.5,161.4 314.0,161.6 314.5,161.7 315.0,162.1 315.5,162.5 316.0,162.8 316.5,163.0 317.0,163.3 317.5,163.5 318.0,163.7 318.5,163.7 319.0,163.9 319.5,164.3 320.0,164.2 320.5,164.9 321.0,164.9 321.5,165.2 322.0,165.2 322.5,165.5 323.0,165.9 323.5,165.6 324.0,166.1 324.5,166.4 325.0,166.8 325.5,166.6 326.0,166.4 326.5,166.7 327.0,167.6 327.5,167.7 328.0,168.0 328.5,168.3 329.0,168.0 329.5,168.5 330.0,168.4 330.5,169.0 331.0,169.0 331.5,169.6 332.0,169.9 332.5,170.0 333.0,169.4 333.5,169.5 334.0,170.3 334.5,171.1 335.0,171.1 335.5,171.2 336.0,171.5 336.5,172.0 337.0,170.9 337.5,172.2 338.0,172.4 338.5,171.0 339.0,172.9 339.5,173.2 340.0,172.7 340.5,172.9 341.0,173.4 341.5,172.9 342.0,172.1 342.5,173.2 343.0,174.1 343.5,174.8 344.0,173.4 344.5,174.5 345.0,175.3 345.5,175.2 346.0,176.1 346.5,176.2 347.0,175.8 347.5,174.7 348.0,174.1 348.5,176.0 349.0,175.8 349.5,177.5 350.0,177.5 350.5,175.1 351.0,178.0 351.5,178.0 352.0,178.7 352.5,178.1 353.0,179.2 353.5,178.5 354.0,177.7 354.5,179.8 355.0,177.8 355.5,178.8 356.0,179.6 356.5,178.4 357.0,180.3 357.5,179.4 358.0,178.3 358.5,181.3 359.0,179.8 359.5,179.8 360.0,181.6 360.5,180.4 361.0,180.2 361.5,181.1 362.0,182.2 362.5,183.1 363.0,181.3 363.5,180.6 363.6,182.8 363.6,188.7 363.5,189.2 363.0,187.9 362.5,190.5 362.0,187.6 361.5,187.2 361.0,186.9 360.5,186.7 360.0,187.3 359.5,189.2 359.0,186.5 358.5,186.6 358.0,186.8 357.5,186.3 357.0,185.4 356.5,186.6 356.0,187.6 355.5,186.9 355.0,184.2 354.5,184.0 354.0,184.0 353.5,183.6 353.0,183.5 352.5,185.7 352.0,183.3 351.5,183.8 351.0,183.4 350.5,182.8 350.0,182.1 349.5,182.2 349.0,181.8 348.5,184.1 348.0,182.5 347.5,182.1 347.0,182.9 346.5,181.0 346.0,180.5 345.5,179.9 345.0,180.4 344.5,179.8 344.0,180.2 343.5,179.4 343.0,179.6 342.5,178.6 342.0,180.1 341.5,179.4 341.0,179.4 340.5,177.6 340.0,177.6 339.5,177.4 339.0,177.3 338.5,176.8 338.0,176.6 337.5,176.3 337.0,177.2 336.5,176.0 336.0,175.6 335.5,175.4 335.0,175.0 334.5,175.9 334.0,175.5 333.5,174.5 333.0,174.2 332.5,173.9 332.0,174.9 331.5,174.4 331.0,174.4 330.5,173.2 330.0,173.5 329.5,173.0 329.0,172.2 328.5,172.7 328.0,172.8 327.5,172.5 327.0,171.7 326.5,171.0 326.0,171.0 325.5,171.1 325.0,170.5 324.5,170.4 324.0,170.1 323.5,170.4 323.0,170.0 322.5,169.2 322.0,169.0 321.5,168.7 321.0,168.5 320.5,168.4 320.0,168.2 319.5,168.1 319.0,167.7 318.5,167.9 318.0,167.4 317.5,166.9 317.0,166.6 316.5,166.8 316.0,166.2 315.5,165.9 315.0,165.8 314.5,165.5 314.0,165.6 313.5,165.0 313.0,164.8 312.5,164.6 312.0,164.7 311.5,164.4 311.0,163.9 310.5,163.6 310.0,163.5 309.5,163.1 309.0,162.9 308.5,162.6 308.0,162.7 307.5,162.2 307.0,162.0 306.5,161.8 306.0,161.7 305.5,161.3 305.0,161.1 304.5,160.9 304.0,160.5 303.5,160.3 303.0,160.2 302.5,159.8 302.0,159.7 301.5,159.5 301.0,159.1 300.5,158.9 300.0,158.9 298.0,157.7 296.0,156.8 294.0,155.9 292.0,155.0 290.0,154.0 288.0,153.1 286.0,152.2 284.0,151.3 282.0,150.4 280.0,149.5 278.0,148.6 276.0,147.6 274.0,146.7 272.0,145.8 270.0,144.9 268.0,144.0 266.0,143.2 264.0,142.3 262.0,141.4 260.0,140.5 258.0,139.6 256.0,138.7 254.0,137.8 252.0,137.0 250.0,136.1 248.0,135.2 246.0,134.3 244.0,133.5 242.0,132.6 240.0,131.7 238.0,130.9 236.0,130.0 234.0,129.2 232.0,128.3 230.0,127.5 228.0,126.6 226.0,125.8 224.0,124.9 222.0,124.1 220.0,123.3 218.0,122.4 216.0,121.6 214.0,120.8 212.0,119.9 210.0,119.1 208.0,118.3 206.0,117.5 204.0,116.6 202.0,115.8 200.0,115.0 198.0,114.2 196.0,113.4 194.0,112.6 192.0,111.8 190.0,111.0 188.0,110.1 186.0,109.3 184.0,108.5 182.0,107.7 180.0,106.9 178.0,106.1 176.0,105.3 174.0,104.6 172.0,103.8 170.0,103.0 168.0,102.2 166.0,101.4 164.0,100.6 162.0,99.8 160.0,99.0 158.0,98.2 156.0,97.5 154.0,96.7 152.0,95.9 150.0,95.1 148.0,94.4 146.0,93.6 144.0,92.8 142.0,92.1 140.0,91.3 138.0,90.5 136.0,89.8 134.0,89.0 132.0,88.3 130.0,87.5 128.0,86.8 126.0,86.0 124.0,85.3 122.0,84.5 120.0,83.8 118.0,83.1 116.0,82.3 114.0,81.6 112.0,80.9 110.0,80.2 108.0,79.4 106.0,78.7 104.0,78.0 102.0,77.3 100.0,76.6 98.0,75.9 96.0,75.3 94.0,74.6 92.0,73.9 90.0,73.2 88.0,72.6 86.0,71.9 84.0,71.3 82.0,70.6 80.0,70.0 78.0,69.4 76.0,68.8 74.0,68.2 72.0,67.6 70.0,67.0 68.0,66.4 66.0,65.9 64.0,65.3 62.0,64.8 60.0,64.2 58.0,63.7 56.0,63.2 54.0,62.7 52.0,62.3 50.0,61.8 48.0,61.4" fill="#00ffff"/>
<polygon points="48.0,60.2 50.0,60.6 52.0,61.0 54.0,61.5 56.0,61.9 58.0,62.4 60.0,62.9 62.0,63.4 64.0,64.0 66.0,64.5 68.0,65.1 70.0,65.7 72.0,66.3 74.0,66.9 76.0,67.5 78.0,68.2 80.0,68.9 82.0,69.5 84.0,70.2 86.0,70.9 88.0,71.6 90.0,72.3 92.0,73.0 94.0,73.8 96.0,74.5 98.0,75.2 100.0,76.0 102.0,76.7 104.0,77.5 106.0,78.3 108.0,79.0 110.0,79.8 112.0,80.6 114.0,81.4 116.0,82.1 118.0,82.9 120.0,83.7 122.0,84.5 124.0,85.3 126.0,86.1 128.0,86.9 130.0,87.7 132.0,88.5 134.0,89.3 136.0,90.1 138.0,90.9 140.0,91.7 142.0,92.5 144.0,93.4 146.0,94.2 148.0,95.0 150.0,95.8 152.0,96.6 154.0,97.4 156.0,98.2 158.0,99.1 160.0,99.9 162.0,100.7 164.0,101.5 166.0,102.3 168.0,103.1 170.0,104.0 172.0,104.8 174.0,105.6 176.0,106.4 178.0,107.3 180.0,108.1 182.0,108.9 184.0,109.7 186.0,110.6 188.0,111.4 190.0,112.3 192.0,113.1 194.0,113.9 196.0,114.8 198.0,115.6 200.0,116.5 202.0,117.3 204.0,118.2 206.0,119.1 208.0,119.9 210.0,120.8 212.0,121.7 214.0,122.6 216.0,123.5 218.0,124.4 220.0,125.3 222.0,126.2 224.0,127.1 226.0,128.0 228.0,129.0 230.0,129.9 232.0,130.8 234.0,131.8 236.0,132.8 238.0,133.7 240.0,134.7 242.0,135.7 244.0,136.7 246.0,137.7 248.0,138.7 250.0,139.7 252.0,140.7 254.0,141.8 256.0,142.8 258.0,143.9 260.0,144.9 262.0,146.0 264.0,147.1 266.0,148.2 268.0,149.3 270.0,150.4 272.0,151.5 274.0,152.7 276.0,153.8 278.0,155.0 280.0,156.2 282.0,157.4 284.0,158.5 286.0,159.7 288.0,161.0 290.0,162.2 292.0,163.4 294.0,164.7 296.0,165.9 298.0,167.2 300.0,168.3 300.5,168.6 301.0,169.0 301.5,169.3 302.0,169.6 302.5,170.0 303.0,170.1 303.5,170.7 304.0,170.8 304.5,171.2 305.0,171.6 305.5,171.8 306.0,172.2 306.5,172.5 307.0,172.6 307.5,173.1 308.0,173.5 308.5,173.8 309.0,174.2 309.5,174.3 310.0,174.8 310.5,175.2 311.0,175.4 311.5,175.6 312.0,176.2 312.5,176.3 313.0,176.7 313.5,177.1 314.0,177.3 314.5,177.6 315.0,177.9 315.5,178.3 316.0,178.4 316.5,179.1 317.0,179.3 317.5,179.5 318.0,180.0 318.5,180.4 319.0,180.6 319.5,181.1 320.0,181.2 320.5,181.5 321.0,182.2 321.5,182.3 322.0,182.8 322.5,183.0 323.0,183.4 323.5,183.9 324.0,184.2 324.5,184.3 325.0,184.5 325.5,184.8 326.0,184.9 326.5,185.2 327.0,186.2 327.5,186.6 328.0,186.8 328.5,187.0 329.0,187.7 329.5,188.0 330.0,187.8 330.5,188.6 331.0,189.0 331.5,189.1 332.0,189.1 332.5,190.1 333.0,190.3 333.5,190.7 334.0,190.7 334.5,190.5 335.0,191.4 335.5,192.2 336.0,192.5 336.5,192.5 337.0,192.1 337.5,193.5 338.0,193.7 338.5,193.4 339.0,193.9 339.5,194.6 340.0,195.2 340.5,195.6 341.0,195.8 341.5,196.2 342.0,195.1 342.5,196.7 343.0,197.5 343.5,196.7 344.0,197.4 344.5,198.5 345.0,198.5 345.5,198.4 346.0,199.5 346.5,199.3 347.0,199.7 347.5,200.6 348.0,199.5 348.5,200.8 349.0,200.8 349.5,200.7 350.0,202.3 350.5,202.5 351.0,202.5 351.5,203.5 352.0,203.8 352.5,203.6 353.0,203.7 353.5,203.4 354.0,204.7 354.5,203.9 355.0,205.5 355.5,206.3 356.0,205.3 356.5,207.1 357.0,205.8 357.5,207.2 358.0,207.9 358.5,206.8 359.0,207.8 359.5,207.8 360.0,209.5 360.5,209.1 361.0,210.1 361.5,209.7 362.0,210.4 362.5,211.3 363.0,209.9 363.5,211.6 363.6,211.8 363.6,217.3 363.5,217.2 363.0,217.0 362.5,216.8 362.0,217.0 361.5,215.9 361.0,215.9 360.5,216.3 360.0,215.0 359.5,214.7 359.0,213.8 358.5,214.1 358.0,213.8 357.5,213.2 357.0,212.4 356.5,212.3 356.0,212.1 355.5,212.8 355.0,211.4 354.5,210.4 354.0,210.3 353.5,211.0 353.0,209.4 352.5,209.2 352.0,209.0 351.5,209.9 351.0,207.9 350.5,207.7 350.0,207.9 349.5,207.6 349.0,207.0 348.5,206.1 348.0,206.1 347.5,207.0 347.0,206.0 346.5,204.7 346.0,204.2 345.5,203.9 345.0,203.6 344.5,204.8 344.0,202.7 343.5,202.5 343.0,201.9 342.5,201.7 342.0,202.2 341.5,201.8 341.0,200.7 340.5,200.9 340.0,200.7 339.5,200.7 339.0,199.2 338.5,198.6 338.0,198.6 337.5,198.7 337.0,197.6 336.5,197.2 336.0,197.4 335.5,197.1 335.0,196.8 334.5,195.7 334.0,195.4 333.5,195.1 333.0,194.9 332.5,194.9 332.0,194.3 331.5,193.8 331.0,194.0 330.5,193.1 330.0,192.5 329.5,192.5 329.0,191.8 328.5,191.4 328.0,190.9 327.5,190.8 327.0,190.6 326.5,189.8 326.0,189.7 325.5,189.2 325.0,189.0 324.5,188.5 324.0,188.0 323.5,187.7 323.0,187.7 322.5,187.0 322.0,186.6 321.5,186.4 321.0,186.0 320.5,186.0 320.0,185.4 319.5,184.9 319.0,184.6 318.5,184.5 318.0,184.0 317.5,183.4 317.0,183.5 316.5,182.9 316.0,182.8 315.5,182.4 315.0,182.0 314.5,181.7 314.0,181.1 313.5,180.8 313.0,180.6 312.5,180.0 312.0,179.6 311.5,179.3 311.0,179.0 310.5,178.7 310.0,178.3 309.5,178.0 309.0,177.6 308.5,177.2 308.0,177.1 307.5,176.6 307.0,176.2 306.5,176.0 306.0,175.7 305.5,175.3 305.0,174.9 304.5,174.6 304.0,174.3 303.5,173.8 303.0,173.5 302.5,173.2 302.0,172.9 301.5,172.6 301.0,172.4 300.5,172.0 300.0,171.6 298.0,170.2 296.0,168.9 294.0,167.6 292.0,166.4 290.0,165.1 288.0,163.9 286.0,162.7 284.0,161.4 282.0,160.2 280.0,159.0 278.0,157.8 276.0,156.7 274.0,155.5 272.0,154.3 270.0,153.2 268.0,152.1 266.0,150.9 264.0,149.8 262.0,148.7 260.0,147.6 258.0,146.5 256.0,145.4 254.0,144.4 252.0,143.3 250.0,142.3 248.0,141.2 246.0,140.2 244.0,139.2 242.0,138.1 240.0,137.1 238.0,136.1 236.0,135.1 234.0,134.2 232.0,133.2 230.0,132.2 228.0,131.2 226.0,130.3 224.0,129.3 222.0,128.4 220.0,127.5 218.0,126.5 216.0,125.6 214.0,124.7 212.0,123.8 210.0,122.9 208.0,122.0 206.0,121.1 204.0,120.2 202.0,119.3 200.0,118.4 198.0,117.5 196.0,116.6 194.0,115.7 192.0,114.9 190.0,114.0 188.0,113.2 186.0,112.3 184.0,111.5 182.0,110.6 180.0,109.8 178.0,108.9 176.0,108.1 174.0,107.2 172.0,106.4 170.0,105.5 168.0,104.7 166.0,103.9 164.0,103.0 162.0,102.2 160.0,101.4 158.0,100.6 156.0,99.7 154.0,98.9 152.0,98.1 150.0,97.3 148.0,96.5 146.0,95.6 144.0,94.8 142.0,94.0 140.0,93.2 138.0,92.4 136.0,91.6 134.0,90.8 132.0,90.0 130.0,89.2 128.0,88.4 126.0,87.6 124.0,86.8 122.0,86.0 120.0,85.2 118.0,84.4 116.0,83.6 114.0,82.8 112.0,82.0 110.0,81.2 108.0,80.5 106.0,79.7 104.0,78.9 102.0,78.2 100.0,77.4 98.0,76.7 96.0,75.9 94.0,75.2 92.0,74.5 90.0,73.8 88.0,73.0 86.0,72.3 84.0,71.7 82.0,71.0 80.0,70.3 78.0,69.6 76.0,69.0 74.0,68.4 72.0,67.7 70.0,67.1 68.0,66.5 66.0,66.0 64.0,65.4 62.0,64.9 60.0,64.4 58.0,63.9 56.0,63.4 54.0,62.9 52.0,62.5 50.0,62.1 48.0,61.7" fill="#0000ff"/>
<polygon points="48.0,60.7 50.0,61.1 52.0,61.6 54.0,62.0 56.0,62.5 58.0,63.0 60.0,63.6 62.0,64.1 64.0,64.6 66.0,65.2 68.0,65.8 70.0,66.4 72.0,67.0 74.0,67.6 76.0,68.2 78.0,68.8 80.0,69.5 82.0,70.1 84.0,70.8 86.0,71.5 88.0,72.1 90.0,72.8 92.0,73.5 94.0,74.3 96.0,75.0 98.0,75.7 100.0,76.4 102.0,77.2 104.0,77.9 106.0,78.7 108.0,79.4 110.0,80.2 112.0,81.0 114.0,81.8 116.0,82.6 118.0,83.4 120.0,84.2 122.0,85.0 124.0,85.8 126.0,86.6 128.0,87.4 130.0,88.2 132.0,89.0 134.0,89.8 136.0,90.7 138.0,91.5 140.0,92.4 142.0,93.2 144.0,94.0 146.0,94.9 148.0,95.8 150.0,96.6 152.0,97.5 154.0,98.3 156.0,99.2 158.0,100.1 160.0,101.0 162.0,101.8 164.0,102.7 166.0,103.6 168.0,104.5 170.0,105.4 172.0,106.3 174.0,107.2 176.0,108.1 178.0,109.0 180.0,109.9 182.0,110.9 184.0,111.8 186.0,112.7 188.0,113.6 190.0,114.6 192.0,115.5 194.0,116.4 196.0,117.4 198.0,118.3 200.0,119.3 202.0,120.3 204.0,121.2 206.0,122.2 208.0,123.2 210.0,124.2 212.0,125.2 214.0,126.2 216.0,127.2 218.0,128.2 220.0,129.2 222.0,130.2 224.0,131.2 226.0,132.3 228.0,133.3 230.0,134.3 232.0,135.4 234.0,136.4 236.0,137.5 238.0,138.6 240.0,139.7 242.0,140.8 244.0,141.9 246.0,143.0 248.0,144.1 250.0,145.2 252.0,146.4 254.0,147.5 256.0,148.7 258.0,149.9 260.0,151.0 262.0,152.2 264.0,153.5 266.0,154.7 268.0,155.9 270.0,157.2 272.0,158.4 274.0,159.7 276.0,161.0 278.0,162.2 280.0,163.5 282.0,164.9 284.0,166.2 286.0,167.5 288.0,168.9 290.0,170.3 292.0,171.7 294.0,173.1 296.0,174.5 298.0,176.0 300.0,177.4 300.5,177.6 301.0,178.1 301.5,178.3 302.0,178.7 302.5,179.2 303.0,179.6 303.5,179.8 304.0,180.3 304.5,180.6 305.0,181.1 305.5,181.5 306.0,181.7 306.5,182.2 307.0,182.6 307.5,183.0 308.0,183.3 308.5,183.7 309.0,184.0 309.5,184.5 310.0,184.9 310.5,185.3 311.0,185.7 311.5,186.1 312.0,186.4 312.5,186.6 313.0,187.3 313.5,187.6 314.0,187.8 314.5,188.1 315.0,188.9 315.5,189.1 316.0,189.5 316.5,189.7 317.0,190.5 317.5,191.0 318.0,191.3 318.5,191.5 319.0,191.7 319.5,192.6 320.0,193.0 320.5,193.5 321.0,193.4 321.5,194.2 322.0,194.7 322.5,194.9 323.0,195.5 323.5,195.9 324.0,196.4 324.5,196.7 325.0,196.6 325.5,197.6 326.0,198.0 326.5,198.4 327.0,198.2 327.5,199.0 328.0,199.7 328.5,199.5 329.0,200.5 329.5,201.0 330.0,201.5 330.5,202.1 331.0,202.3 331.5,203.0 332.0,203.4 332.5,203.7 333.0,204.0 333.5,203.8 334.0,204.8 334.5,205.5 335.0,206.2 335.5,206.2 336.0,206.6 336.5,206.3 337.0,208.0 337.5,207.6 338.0,208.6 338.5,208.8 339.0,209.8 339.5,210.4 340.0,210.5 340.5,210.8 341.0,210.4 341.5,211.5 342.0,212.9 342.5,213.3 343.0,213.4 343.5,212.8 344.0,213.3 344.5,215.0 345.0,215.8 345.5,215.4 346.0,216.3 346.5,217.1 347.0,217.8 347.5,216.9 348.0,218.8 348.5,219.4 349.0,218.9 349.5,218.9 350.0,219.4 350.5,221.1 351.0,221.8 351.5,221.1 352.0,222.2 352.5,223.3 353.0,224.0 353.5,224.1 354.0,223.9 354.5,225.7 355.0,226.1 355.5,226.4 356.0,225.7 356.5,227.8 357.0,228.1 357.5,228.9 358.0,229.4 358.5,229.8 359.0,230.5 359.5,231.1 360.0,231.6 360.5,231.9 361.0,232.5 361.5,232.6 362.0,232.4 362.5,234.4 363.0,234.8 363.5,234.6 363.6,235.5 363.6,240.2 363.5,239.7 363.0,239.1 362.5,239.4 362.0,239.2 361.5,237.2 361.0,236.7 360.5,236.3 360.0,235.8 359.5,234.9 359.0,234.6 358.5,234.2 358.0,234.7 357.5,232.9 357.0,233.1 356.5,232.2 356.0,230.9 355.5,230.5 355.0,230.0 354.5,230.6 354.0,229.4 353.5,228.5 353.0,227.8 352.5,227.1 352.0,226.9 351.5,226.2 351.0,225.7 350.5,225.4 350.0,225.7 349.5,224.4 349.0,223.5 348.5,223.5 348.0,223.0 347.5,222.1 347.0,222.3 346.5,221.0 346.0,221.8 345.5,220.0 345.0,219.3 344.5,219.3 344.0,219.3 343.5,218.2 343.0,218.5 342.5,217.2 342.0,216.5 341.5,216.0 341.0,215.3 340.5,215.8 340.0,214.6 339.5,214.5 339.0,214.3 338.5,213.6 338.0,213.7 337.5,211.9 337.0,211.8 336.5,211.2 336.0,211.2 335.5,211.2 335.0,210.0 334.5,209.3 334.0,209.0 333.5,208.1 333.0,207.7 332.5,207.5 332.0,207.5 331.5,206.4 331.0,205.8 330.5,205.7 330.0,204.8 329.5,205.1 329.0,204.0 328.5,203.5 328.0,203.6 327.5,202.9 327.0,202.3 326.5,202.5 326.0,201.5 325.5,201.1 325.0,200.5 324.5,200.0 324.0,199.8 323.5,199.7 323.0,199.0 322.5,198.3 322.0,198.1 321.5,197.3 321.0,196.9 320.5,196.7 320.0,196.1 319.5,195.7 319.0,195.2 318.5,195.1 318.0,194.5 317.5,194.1 317.0,193.5 316.5,193.1 316.0,192.7 315.5,192.2 315.0,192.2 314.5,191.4 314.0,191.2 313.5,190.6 313.0,190.4 312.5,190.0 312.0,189.7 311.5,189.0 311.0,188.6 310.5,188.3 310.0,187.9 309.5,187.4 309.0,187.1 308.5,186.6 308.0,186.4 307.5,185.7 307.0,185.6 306.5,185.0 306.0,184.6 305.5,184.2 305.0,183.8 304.5,183.5 304.0,183.2 303.5,182.8 303.0,182.3 302.5,181.9 302.0,181.5 301.5,181.3 301.0,180.8 300.5,180.4 300.0,180.0 298.0,178.5 296.0,177.0 294.0,175.5 292.0,174.1 290.0,172.7 288.0,171.3 286.0,169.9 284.0,168.5 282.0,167.1 280.0,165.8 278.0,164.5 276.0,163.2 274.0,161.9 272.0,160.6 270.0,159.3 268.0,158.0 266.0,156.8 264.0,155.6 262.0,154.3 260.0,153.1 258.0,151.9 256.0,150.7 254.0,149.6 252.0,148.4 250.0,147.2 248.0,146.1 246.0,145.0 244.0,143.8 242.0,142.7 240.0,141.6 238.0,140.5 236.0,139.4 234.0,138.3 232.0,137.2 230.0,136.2 228.0,135.1 226.0,134.0 224.0,133.0 222.0,131.9 220.0,130.9 218.0,129.9 216.0,128.8 214.0,127.8 212.0,126.8 210.0,125.8 208.0,124.8 206.0,123.8 204.0,122.8 202.0,121.8 200.0,120.9 198.0,119.9 196.0,118.9 194.0,117.9 192.0,117.0 190.0,116.1 188.0,115.1 186.0,114.2 184.0,113.2 182.0,112.3 180.0,111.4 178.0,110.5 176.0,109.6 174.0,108.6 172.0,107.7 170.0,106.8 168.0,105.9 166.0,105.0 164.0,104.1 162.0,103.2 160.0,102.4 158.0,101.5 156.0,100.6 154.0,99.7 152.0,98.9 150.0,98.0 148.0,97.2 146.0,96.3 144.0,95.4 142.0,94.6 140.0,93.8 138.0,92.9 136.0,92.1 134.0,91.2 132.0,90.4 130.0,89.6 128.0,88.8 126.0,88.0 124.0,87.2 122.0,86.4 120.0,85.6 118.0,84.8 116.0,84.0 114.0,83.2 112.0,82.4 110.0,81.6 108.0,80.8 106.0,80.1 104.0,79.3 102.0,78.6 100.0,77.8 98.0,77.1 96.0,76.3 94.0,75.6 92.0,74.9 90.0,74.2 88.0,73.5 86.0,72.8 84.0,72.1 82.0,71.5 80.0,70.8 78.0,70.2 76.0,69.5 74.0,68.9 72.0,68.3 70.0,67.7 68.0,67.1 66.0,66.5 64.0,66.0 62.0,65.4 60.0,64.9 58.0,64.3 56.0,63.8 54.0,63.4 52.0,62.9 50.0,62.4 48.0,62.0" fill="#7221bc"/>
<polygon points="48.0,60.9 50.0,61.3 52.0,61.8 54.0,62.3 56.0,62.8 58.0,63.3 60.0,63.8 62.0,64.4 64.0,64.9 66.0,65.5 68.0,66.1 70.0,66.7 72.0,67.3 74.0,67.9 76.0,68.5 78.0,69.2 80.0,69.8 82.0,70.5 84.0,71.2 86.0,71.9 88.0,72.6 90.0,73.3 92.0,74.0 94.0,74.7 96.0,75.4 98.0,76.2 100.0,76.9 102.0,77.7 104.0,78.4 106.0,79.2 108.0,80.0 110.0,80.8 112.0,81.5 114.0,82.3 116.0,83.1 118.0,83.9 120.0,84.8 122.0,85.6 124.0,86.4 126.0,87.2 128.0,88.1 130.0,88.9 132.0,89.8 134.0,90.6 136.0,91.5 138.0,92.3 140.0,93.2 142.0,94.1 144.0,94.9 146.0,95.8 148.0,96.7 150.0,97.6 152.0,98.5 154.0,99.4 156.0,100.3 158.0,101.2 160.0,102.1 162.0,103.0 164.0,103.9 166.0,104.8 168.0,105.7 170.0,106.6 172.0,107.5 174.0,108.4 176.0,109.4 178.0,110.3 180.0,111.2 182.0,112.1 184.0,113.1 186.0,114.0 188.0,115.0 190.0,115.9 192.0,116.9 194.0,117.8 196.0,118.8 198.0,119.7 200.0,120.7 202.0,121.7 204.0,122.6 206.0,123.6 208.0,124.6 210.0,125.6 212.0,126.6 214.0,127.6 216.0,128.6 218.0,129.6 220.0,130.6 222.0,131.6 224.0,132.6 226.0,133.7 228.0,134.7 230.0,135.8 232.0,136.8 234.0,137.9 236.0,139.0 238.0,140.1 240.0,141.1 242.0,142.2 244.0,143.3 246.0,144.5 248.0,145.6 250.0,146.7 252.0,147.9 254.0,149.1 256.0,150.2 258.0,151.4 260.0,152.6 262.0,153.8 264.0,155.0 266.0,156.3 268.0,157.5 270.0,158.8 272.0,160.0 274.0,161.3 276.0,162.6 278.0,163.9 280.0,165.2 282.0,166.6 284.0,167.9 286.0,169.3 288.0,170.7 290.0,172.1 292.0,173.5 294.0,174.9 296.0,176.4 298.0,177.9 300.0,179.1 300.5,179.6 301.0,180.1 301.5,180.4 302.0,180.7 302.5,181.2 303.0,181.6 303.5,181.9 304.0,182.3 304.5,182.6 305.0,183.1 305.5,183.3 306.0,183.8 306.5,184.2 307.0,184.7 307.5,185.1 308.0,185.3 308.5,185.7 309.0,186.2 309.5,186.6 310.0,187.0 310.5,187.3 311.0,187.7 311.5,188.2 312.0,188.5 312.5,189.0 313.0,189.3 313.5,189.9 314.0,189.9 314.5,190.4 315.0,190.9 315.5,191.2 316.0,191.8 316.5,191.9 317.0,192.4 317.5,193.1 318.0,193.4 318.5,194.0 319.0,194.4 319.5,194.9 320.0,194.8 320.5,195.7 321.0,196.1 321.5,196.2 322.0,196.9 322.5,197.5 323.0,197.8 323.5,198.0 324.0,198.5 324.5,199.2 325.0,199.6 325.5,200.1 326.0,200.2 326.5,200.7 327.0,201.4 327.5,201.5 328.0,201.9 328.5,202.4 329.0,202.7 329.5,203.5 330.0,204.0 330.5,203.6 331.0,205.0 331.5,205.0 332.0,205.6 332.5,206.1 333.0,206.3 333.5,206.7 334.0,207.3 334.5,208.1 335.0,208.4 335.5,208.8 336.0,209.4 336.5,210.0 337.0,210.6 337.5,210.9 338.0,211.0 338.5,211.3 339.0,212.0 339.5,212.9 340.0,211.9 340.5,213.5 341.0,214.0 341.5,215.0 342.0,215.3 342.5,215.7 343.0,216.2 343.5,216.7 344.0,217.4 344.5,217.5 345.0,216.9 345.5,218.7 346.0,219.3 346.5,219.5 347.0,219.5 347.5,220.4 348.0,220.5 348.5,222.1 349.0,222.5 349.5,222.6 350.0,223.1 350.5,222.6 351.0,223.3 351.5,223.6 352.0,225.1 352.5,225.8 353.0,225.2 353.5,227.0 354.0,227.8 354.5,228.2 355.0,227.9 355.5,228.7 356.0,229.9 356.5,229.3 357.0,231.1 357.5,231.6 358.0,232.1 358.5,232.6 359.0,233.3 359.5,232.9 360.0,233.6 360.5,234.9 361.0,234.8 361.5,236.0 362.0,236.4 362.5,237.2 363.0,236.2 363.5,237.6 363.6,238.3 363.6,242.4 363.5,242.9 363.0,242.4 362.5,241.0 362.0,241.0 361.5,240.7 361.0,239.6 360.5,239.0 360.0,238.1 359.5,238.0 359.0,237.0 358.5,236.7 358.0,236.3 357.5,235.6 357.0,234.9 356.5,234.8 356.0,234.9 355.5,233.7 355.0,233.7 354.5,232.6 354.0,231.5 353.5,232.3 353.0,230.9 352.5,231.3 352.0,229.4 351.5,228.7 351.0,228.5 350.5,227.6 350.0,227.6 349.5,226.6 349.0,227.6 348.5,225.6 348.0,225.2 347.5,224.7 347.0,224.0 346.5,223.7 346.0,224.5 345.5,222.7 345.0,222.1 344.5,222.3 344.0,221.7 343.5,221.4 343.0,220.9 342.5,220.9 342.0,219.6 341.5,218.7 341.0,218.2 340.5,218.2 340.0,217.4 339.5,216.5 339.0,216.3 338.5,215.8 338.0,215.6 337.5,214.6 337.0,214.2 336.5,213.6 336.0,212.9 335.5,213.2 335.0,212.3 334.5,211.6 334.0,211.1 333.5,210.6 333.0,210.3 332.5,209.9 332.0,209.9 331.5,208.9 331.0,208.6 330.5,208.1 330.0,207.3 329.5,207.3 329.0,206.6 328.5,206.5 328.0,205.8 327.5,205.1 327.0,204.9 326.5,204.2 326.0,203.7 325.5,203.6 325.0,202.9 324.5,202.3 324.0,201.8 323.5,201.3 323.0,200.9 322.5,200.7 322.0,200.4 321.5,200.0 321.0,199.3 320.5,198.7 320.0,198.4 319.5,198.2 319.0,197.8 318.5,197.1 318.0,196.7 317.5,196.3 317.0,195.8 316.5,195.4 316.0,194.9 315.5,194.4 315.0,194.0 314.5,193.8 314.0,193.2 313.5,192.7 313.0,192.6 312.5,191.9 312.0,191.6 311.5,191.1 311.0,190.6 310.5,190.3 310.0,189.8 309.5,189.6 309.0,189.0 308.5,188.6 308.0,188.3 307.5,188.0 307.0,187.7 306.5,187.1 306.0,186.6 305.5,186.3 305.0,185.9 304.5,185.4 304.0,185.0 303.5,184.6 303.0,184.2 302.5,183.9 302.0,183.5 301.5,183.1 301.0,182.7 300.5,182.3 300.0,182.0 298.0,180.4 296.0,178.9 294.0,177.4 292.0,175.9 290.0,174.5 288.0,173.1 286.0,171.6 284.0,170.2 282.0,168.9 280.0,167.5 278.0,166.1 276.0,164.8 274.0,163.5 272.0,162.2 270.0,160.9 268.0,159.6 266.0,158.4 264.0,157.1 262.0,155.9 260.0,154.7 258.0,153.5 256.0,152.3 254.0,151.1 252.0,149.9 250.0,148.8 248.0,147.6 246.0,146.5 244.0,145.3 242.0,144.2 240.0,143.1 238.0,142.0 236.0,140.9 234.0,139.8 232.0,138.7 230.0,137.6 228.0,136.5 226.0,135.5 224.0,134.4 222.0,133.3 220.0,132.3 218.0,131.3 216.0,130.2 214.0,129.2 212.0,128.2 210.0,127.2 208.0,126.2 206.0,125.2 204.0,124.2 202.0,123.2 200.0,122.3 198.0,121.3 196.0,120.3 194.0,119.3 192.0,118.4 190.0,117.4 188.0,116.5 186.0,115.5 184.0,114.6 182.0,113.6 180.0,112.7 178.0,111.7 176.0,110.8 174.0,109.9 172.0,108.9 170.0,108.0 168.0,107.1 166.0,106.2 164.0,105.3 162.0,104.4 160.0,103.5 158.0,102.6 156.0,101.7 154.0,100.8 152.0,99.9 150.0,99.0 148.0,98.1 146.0,97.2 144.0,96.3 142.0,95.5 140.0,94.6 138.0,93.7 136.0,92.9 134.0,92.0 132.0,91.2 130.0,90.3 128.0,89.5 126.0,88.6 124.0,87.8 122.0,87.0 120.0,86.2 118.0,85.3 116.0,84.5 114.0,83.7 112.0,82.9 110.0,82.1 108.0,81.4 106.0,80.6 104.0,79.8 102.0,79.1 100.0,78.3 98.0,77.5 96.0,76.8 94.0,76.1 92.0,75.3 90.0,74.6 88.0,73.9 86.0,73.2 84.0,72.5 82.0,71.9 80.0,71.2 78.0,70.5 76.0,69.9 74.0,69.2 72.0,68.6 70.0,68.0 68.0,67.4 66.0,66.8 64.0,66.2 62.0,65.7 60.0,65.1 58.0,64.6 56.0,64.1 54.0,63.6 52.0,63.1 50.0,62.6 48.0,62.2" fill="#7221bc"/>
<polygon points="200.0,120.8 202.0,121.7 204.0,122.6 206.0,123.5 208.0,124.4 210.0,125.3 212.0,126.3 214.0,127.2 216.0,128.1 218.0,129.1 220.0,130.0 222.0,131.1 224.0,132.1 226.0,133.1 228.0,134.2 230.0,135.2 232.0,136.3 234.0,137.4 236.0,138.5 238.0,139.5 240.0,140.6 242.0,141.7 244.0,142.8 246.0,144.0 248.0,145.1 250.0,146.2 252.0,147.4 254.0,148.5 256.0,149.7 258.0,150.9 260.0,152.1 262.0,153.3 264.0,154.5 266.0,155.7 268.0,157.0 270.0,158.2 272.0,159.5 274.0,160.8 276.0,162.1 278.0,163.4 280.0,164.7 282.0,166.0 284.0,167.3 286.0,168.7 288.0,170.1 290.0,171.5 292.0,172.9 294.0,174.3 296.0,175.8 298.0,177.2 300.0,178.7 300.5,179.1 301.0,179.4 301.5,179.8 302.0,180.2 302.5,180.6 303.0,180.9 303.5,181.3 304.0,181.7 304.5,182.1 305.0,182.5 305.5,182.8 306.0,183.2 306.5,183.6 307.0,184.0 307.5,184.4 308.0,184.8 308.5,185.2 309.0,185.6 309.5,186.0 310.0,186.4 310.5,186.7 311.0,187.1 311.5,187.5 312.0,187.9 312.5,188.3 313.0,188.7 313.5,189.2 314.0,189.6 314.5,190.0 315.0,190.4 315.5,190.8 316.0,191.2 316.5,191.6 317.0,192.0 317.5,192.4 318.0,192.9 318.5,193.3 319.0,193.7 319.5,194.1 320.0,194.5 320.5,195.0 321.0,195.4 321.5,195.8 322.0,196.2 322.5,196.7 323.0,197.1 323.5,197.5 324.0,198.0 324.5,198.4 325.0,198.8 325.5,199.3 326.0,199.7 326.5,200.1 327.0,200.6 327.5,201.0 328.0,201.5 328.5,201.9 329.0,202.4 329.5,202.8 330.0,203.3 330.5,203.7 331.0,204.2 331.5,204.6 332.0,205.1 332.5,205.6 333.0,206.0 333.5,206.5 334.0,206.9 334.5,207.4 335.0,207.9 335.5,208.4 336.0,208.8 336.5,209.3 337.0,209.8 337.5,210.2 338.0,210.7 338.5,211.2 339.0,211.7 339.5,212.2 340.0,212.7 340.5,213.1 341.0,213.6 341.5,214.1 342.0,214.6 342.5,215.1 343.0,215.6 343.5,216.1 344.0,216.6 344.5,217.1 345.0,217.6 345.5,218.1 346.0,218.6 346.5,219.1 347.0,219.6 347.5,220.1 348.0,220.6 348.5,221.2 349.0,221.7 349.5,222.2 350.0,222.7 350.5,223.2 351.0,223.8 351.5,224.3 352.0,224.8 352.5,225.3 353.0,225.9 353.5,226.4 354.0,226.9 354.5,227.5 355.0,228.0 355.5,228.6 356.0,229.1 356.5,229.6 357.0,230.2 357.5,230.7 358.0,231.3 358.5,231.8 359.0,232.4 359.5,233.0 360.0,233.5 360.5,234.1 361.0,234.6 361.5,235.2 362.0,235.8 362.5,236.3 363.0,236.9 363.5,237.5 363.6,237.6 363.6,240.4 363.5,240.3 363.0,239.7 362.5,239.1 362.0,238.5 361.5,238.0 361.0,237.4 360.5,236.8 360.0,236.3 359.5,235.7 359.0,235.1 358.5,234.6 358.0,234.0 357.5,233.5 357.0,232.9 356.5,232.3 356.0,231.8 355.5,231.3 355.0,230.7 354.5,230.2 354.0,229.6 353.5,229.1 353.0,228.5 352.5,228.0 352.0,227.5 351.5,226.9 351.0,226.4 350.5,225.9 350.0,225.3 349.5,224.8 349.0,224.3 348.5,223.8 348.0,223.3 347.5,222.7 347.0,222.2 346.5,221.7 346.0,221.2 345.5,220.7 345.0,220.2 344.5,219.7 344.0,219.2 343.5,218.7 343.0,218.1 342.5,217.6 342.0,217.1 341.5,216.7 341.0,216.2 340.5,215.7 340.0,215.2 339.5,214.7 339.0,214.2 338.5,213.7 338.0,213.2 337.5,212.7 337.0,212.3 336.5,211.8 336.0,211.3 335.5,210.8 335.0,210.3 334.5,209.9 334.0,209.4 333.5,208.9 333.0,208.5 332.5,208.0 332.0,207.5 331.5,207.1 331.0,206.6 330.5,206.1 330.0,205.7 329.5,205.2 329.0,204.8 328.5,204.3 328.0,203.8 327.5,203.4 327.0,202.9 326.5,202.5 326.0,202.0 325.5,201.6 325.0,201.1 324.5,200.7 324.0,200.3 323.5,199.8 323.0,199.4 322.5,198.9 322.0,198.5 321.5,198.1 321.0,197.6 320.5,197.2 320.0,196.8 319.5,196.3 319.0,195.9 318.5,195.5 318.0,195.1 317.5,194.6 317.0,194.2 316.5,193.8 316.0,193.4 315.5,193.0 315.0,192.5 314.5,192.1 314.0,191.7 313.5,191.3 313.0,190.9 312.5,190.5 312.0,190.1 311.5,189.7 311.0,189.2 310.5,188.8 310.0,188.4 309.5,188.0 309.0,187.6 308.5,187.2 308.0,186.8 307.5,186.4 307.0,186.0 306.5,185.6 306.0,185.3 305.5,184.9 305.0,184.5 304.5,184.1 304.0,183.7 303.5,183.3 303.0,182.9 302.5,182.5 302.0,182.1 301.5,181.8 301.0,181.4 300.5,181.0 300.0,180.6 298.0,179.1 296.0,177.6 294.0,176.2 292.0,174.7 290.0,173.3 288.0,171.9 286.0,170.5 284.0,169.1 282.0,167.7 280.0,166.4 278.0,165.0 276.0,163.7 274.0,162.4 272.0,161.1 270.0,159.8 268.0,158.6 266.0,157.3 264.0,156.1 262.0,154.9 260.0,153.6 258.0,152.4 256.0,151.3 254.0,150.1 252.0,148.9 250.0,147.7 248.0,146.6 246.0,145.5 244.0,144.3 242.0,143.2 240.0,142.1 238.0,141.0 236.0,139.9 234.0,138.8 232.0,137.8 230.0,136.7 228.0,135.6 226.0,134.6 224.0,133.5 222.0,132.5 220.0,131.4 218.0,130.4 216.0,129.3 214.0,128.2 212.0,127.1 210.0,126.0 208.0,125.0 206.0,123.9 204.0,122.9 202.0,121.8 200.0,120.8" fill="#7221bc"/>
<polygon points="48.0,61.2 50.0,61.5 52.0,61.8 54.0,62.1 56.0,62.5 58.0,62.9 60.0,63.4 62.0,63.9 64.0,64.4 66.0,64.9 68.0,65.5 70.0,66.0 72.0,66.6 74.0,67.3 76.0,67.9 78.0,68.6 80.0,69.3 82.0,70.0 84.0,70.7 86.0,71.4 88.0,72.2 90.0,72.9 92.0,73.7 94.0,74.5 96.0,75.3 98.0,76.1 100.0,76.9 102.0,77.7 104.0,78.5 106.0,79.4 108.0,80.2 110.0,81.1 112.0,81.9 114.0,82.8 116.0,83.7 118.0,84.6 120.0,85.4 122.0,86.3 124.0,87.2 126.0,88.1 128.0,89.0 130.0,89.9 132.0,90.8 134.0,91.7 136.0,92.6 138.0,93.5 140.0,94.4 142.0,95.3 144.0,96.2 146.0,97.1 148.0,98.1 150.0,99.0 152.0,99.9 154.0,100.8 156.0,101.8 158.0,102.7 160.0,103.6 162.0,104.5 164.0,105.5 166.0,106.4 168.0,107.3 170.0,108.3 172.0,109.2 174.0,110.1 176.0,111.1 178.0,112.0 180.0,113.0 182.0,113.9 184.0,114.9 186.0,115.9 188.0,116.9 190.0,117.8 192.0,118.8 194.0,119.8 196.0,120.9 198.0,121.9 200.0,123.0 202.0,124.0 204.0,125.1 206.0,126.2 208.0,127.3 210.0,128.4 212.0,129.5 214.0,130.6 216.0,131.7 218.0,132.9 220.0,134.0 222.0,135.2 224.0,136.4 226.0,137.6 228.0,138.8 230.0,140.0 232.0,141.2 234.0,142.5 236.0,143.7 238.0,145.0 240.0,146.3 242.0,147.6 244.0,148.9 246.0,150.3 248.0,151.7 250.0,153.0 252.0,154.5 254.0,155.9 256.0,157.3 258.0,158.8 260.0,160.3 262.0,161.8 264.0,163.4 266.0,164.9 268.0,166.5 270.0,168.1 272.0,169.7 274.0,171.3 276.0,173.0 278.0,174.6 280.0,176.3 282.0,178.0 284.0,179.8 286.0,181.5 288.0,183.3 290.0,185.1 292.0,187.0 294.0,188.8 296.0,190.7 298.0,192.6 300.0,194.4 300.5,194.9 301.0,195.4 301.5,195.9 302.0,196.3 302.5,196.8 303.0,197.3 303.5,197.7 304.0,198.2 304.5,198.7 305.0,199.2 305.5,199.7 306.0,200.2 306.5,200.7 307.0,201.1 307.5,201.6 308.0,202.1 308.5,202.6 309.0,203.1 309.5,203.6 310.0,204.0 310.5,204.6 311.0,205.1 311.5,205.6 312.0,206.1 312.5,206.6 313.0,207.0 313.5,207.6 314.0,208.0 314.5,208.6 315.0,209.2 315.5,209.7 316.0,210.1 316.5,210.7 317.0,211.2 317.5,211.7 318.0,212.2 318.5,212.7 319.0,213.2 319.5,213.7 320.0,214.4 320.5,214.7 321.0,215.4 321.5,215.9 322.0,216.5 322.5,216.9 323.0,217.4 323.5,218.1 324.0,218.6 324.5,219.2 325.0,219.6 325.5,220.1 326.0,220.6 326.5,221.3 327.0,221.8 327.5,222.4 328.0,222.9 328.5,223.3 329.0,224.1 329.5,224.5 330.0,225.1 330.5,225.6 331.0,226.3 331.5,226.9 332.0,227.5 332.5,228.0 333.0,228.4 333.5,229.1 334.0,229.7 334.5,230.3 335.0,230.9 335.5,231.6 336.0,232.1 336.5,232.5 337.0,233.1 337.5,233.5 338.0,234.3 338.5,235.2 339.0,235.3 339.5,236.2 340.0,236.5 340.5,237.3 341.0,238.0 341.5,238.5 342.0,239.3 342.5,239.8 343.0,240.0 343.5,241.0 344.0,241.8 344.5,242.4 345.0,242.8 345.5,243.6 346.0,244.1 346.5,244.4 347.0,245.1 347.5,245.8 348.0,246.6 348.5,247.0 349.0,247.9 349.5,248.1 350.0,248.7 350.5,249.5 351.0,249.8 351.5,250.3 352.0,251.2 352.0,256.7 351.5,256.1 351.0,255.3 350.5,254.6 350.0,253.9 349.5,253.4 349.0,253.1 348.5,252.1 348.0,251.4 347.5,251.6 347.0,250.6 346.5,250.1 346.0,249.1 345.5,248.5 345.0,248.0 344.5,247.1 344.0,246.7 343.5,246.1 343.0,245.3 342.5,244.7 342.0,244.2 341.5,244.0 341.0,242.9 340.5,242.4 340.0,241.9 339.5,241.1 339.0,240.5 338.5,240.0 338.0,239.6 337.5,238.8 337.0,238.3 336.5,237.4 336.0,237.2 335.5,236.2 335.0,235.7 334.5,235.1 334.0,234.5 333.5,233.9 333.0,233.4 332.5,232.7 332.0,232.1 331.5,231.8 331.0,231.0 330.5,230.5 330.0,230.0 329.5,229.4 329.0,228.7 328.5,228.3 328.0,227.7 327.5,227.1 327.0,226.5 326.5,225.8 326.0,225.3 325.5,224.8 325.0,224.1 324.5,223.6 324.0,223.0 323.5,222.6 323.0,222.0 322.5,221.4 322.0,220.8 321.5,220.3 321.0,219.7 320.5,219.1 320.0,218.6 319.5,218.0 319.0,217.6 318.5,216.9 318.0,216.5 317.5,215.8 317.0,215.3 316.5,214.8 316.0,214.2 315.5,213.8 315.0,213.1 314.5,212.6 314.0,212.1 313.5,211.5 313.0,211.0 312.5,210.5 312.0,209.9 311.5,209.5 311.0,208.9 310.5,208.4 310.0,207.9 309.5,207.3 309.0,206.8 308.5,206.4 308.0,205.8 307.5,205.3 307.0,204.8 306.5,204.3 306.0,203.7 305.5,203.2 305.0,202.7 304.5,202.2 304.0,201.7 303.5,201.2 303.0,200.7 302.5,200.3 302.0,199.7 301.5,199.3 301.0,198.8 300.5,198.3 300.0,197.8 298.0,195.8 296.0,193.8 294.0,191.9 292.0,190.0 290.0,188.1 288.0,186.3 286.0,184.5 284.0,182.7 282.0,180.9 280.0,179.1 278.0,177.4 276.0,175.7 274.0,174.0 272.0,172.3 270.0,170.7 268.0,169.1 266.0,167.5 264.0,165.9 262.0,164.3 260.0,162.8 258.0,161.3 256.0,159.8 254.0,158.3 252.0,156.9 250.0,155.5 248.0,154.1 246.0,152.7 244.0,151.3 242.0,149.9 240.0,148.6 238.0,147.3 236.0,146.0 234.0,144.7 232.0,143.4 230.0,142.1 228.0,140.9 226.0,139.7 224.0,138.4 222.0,137.2 220.0,136.0 218.0,134.9 216.0,133.7 214.0,132.6 212.0,131.4 210.0,130.3 208.0,129.2 206.0,128.1 204.0,127.0 202.0,125.9 200.0,124.8 198.0,123.7 196.0,122.7 194.0,121.6 192.0,120.6 190.0,119.6 188.0,118.6 186.0,117.6 184.0,116.6 182.0,115.6 180.0,114.7 178.0,113.7 176.0,112.7 174.0,111.8 172.0,110.8 170.0,109.8 168.0,108.9 166.0,107.9 164.0,107.0 162.0,106.1 160.0,105.1 158.0,104.2 156.0,103.3 154.0,102.3 152.0,101.4 150.0,100.5 148.0,99.5 146.0,98.6 144.0,97.7 142.0,96.8 140.0,95.9 138.0,95.0 136.0,94.1 134.0,93.1 132.0,92.2 130.0,91.3 128.0,90.4 126.0,89.6 124.0,88.7 122.0,87.8 120.0,86.9 118.0,86.0 116.0,85.1 114.0,84.3 112.0,83.4 110.0,82.5 108.0,81.7 106.0,80.8 104.0,80.0 102.0,79.1 100.0,78.3 98.0,77.5 96.0,76.7 94.0,75.9 92.0,75.1 90.0,74.3 88.0,73.5 86.0,72.8 84.0,72.1 82.0,71.3 80.0,70.6 78.0,69.9 76.0,69.3 74.0,68.6 72.0,68.0 70.0,67.4 68.0,66.8 66.0,66.2 64.0,65.7 62.0,65.2 60.0,64.7 58.0,64.3 56.0,63.8 54.0,63.5 52.0,63.1 50.0,62.8 48.0,62.5" fill="#9400d3"/>
<polygon points="48.0,61.7 50.0,62.0 52.0,62.3 54.0,62.7 56.0,63.1 58.0,63.5 60.0,64.0 62.0,64.5 64.0,65.0 66.0,65.6 68.0,66.2 70.0,66.8 72.0,67.4 74.0,68.0 76.0,68.7 78.0,69.4 80.0,70.1 82.0,70.8 84.0,71.5 86.0,72.3 88.0,73.0 90.0,73.8 92.0,74.6 94.0,75.4 96.0,76.2 98.0,77.1 100.0,77.9 102.0,78.7 104.0,79.6 106.0,80.4 108.0,81.3 110.0,82.2 112.0,83.1 114.0,84.0 116.0,84.8 118.0,85.7 120.0,86.6 122.0,87.6 124.0,88.5 126.0,89.4 128.0,90.3 130.0,91.3 132.0,92.2 134.0,93.1 136.0,94.1 138.0,95.0 140.0,95.9 142.0,96.9 144.0,97.8 146.0,98.8 148.0,99.7 150.0,100.7 152.0,101.7 154.0,102.6 156.0,103.6 158.0,104.6 160.0,105.5 162.0,106.5 164.0,107.5 166.0,108.5 168.0,109.5 170.0,110.5 172.0,111.5 174.0,112.5 176.0,113.5 178.0,114.5 180.0,115.5 182.0,116.6 184.0,117.6 186.0,118.6 188.0,119.7 190.0,120.7 192.0,121.8 194.0,122.8 196.0,123.9 198.0,124.9 200.0,126.0 202.0,127.1 204.0,128.2 206.0,129.3 208.0,130.4 210.0,131.5 212.0,132.6 214.0,133.8 216.0,134.9 218.0,136.1 220.0,137.2 222.0,138.4 224.0,139.6 226.0,140.9 228.0,142.1 230.0,143.3 232.0,144.6 234.0,145.9 236.0,147.2 238.0,148.5 240.0,149.8 242.0,151.1 244.0,152.5 246.0,153.9 248.0,155.3 250.0,156.7 252.0,158.1 254.0,159.6 256.0,161.1 258.0,162.6 260.0,164.1 262.0,165.7 264.0,167.2 266.0,168.8 268.0,170.4 270.0,172.1 272.0,173.7 274.0,175.4 276.0,177.1 278.0,178.8 280.0,180.5 282.0,182.3 284.0,184.1 286.0,185.9 288.0,187.7 290.0,189.5 292.0,191.4 294.0,193.3 296.0,195.2 298.0,197.2 300.0,199.2 300.5,199.7 301.0,200.2 301.5,200.7 302.0,201.2 302.5,201.7 303.0,202.2 303.5,202.7 304.0,203.3 304.5,203.7 305.0,204.3 305.5,204.8 306.0,205.3 306.5,205.8 307.0,206.3 307.5,206.9 308.0,207.4 308.5,208.0 309.0,208.5 309.5,209.0 310.0,209.5 310.5,210.0 311.0,210.5 311.5,211.1 312.0,211.7 312.5,212.2 313.0,212.7 313.5,213.3 314.0,213.8 314.5,214.4 315.0,214.9 315.5,215.5 316.0,216.0 316.5,216.5 317.0,217.1 317.5,217.7 318.0,218.2 318.5,218.7 319.0,219.3 319.5,219.9 320.0,220.4 320.5,221.0 321.0,221.5 321.5,222.1 322.0,222.6 322.5,223.1 323.0,223.8 323.5,224.3 324.0,225.0 324.5,225.5 325.0,226.1 325.5,226.7 326.0,227.2 326.5,227.8 327.0,228.4 327.5,228.8 328.0,229.6 328.5,230.0 329.0,230.6 329.5,231.3 330.0,232.0 330.5,232.3 331.0,233.1 331.5,233.6 332.0,234.0 332.5,234.6 333.0,235.4 333.5,236.0 334.0,236.4 334.5,237.3 335.0,237.7 335.5,238.5 336.0,238.8 336.5,239.3 337.0,239.8 337.5,240.8 338.0,241.2 338.5,242.0 339.0,242.4 339.5,242.9 340.0,243.4 340.5,244.4 341.0,245.0 341.5,245.3 342.0,246.3 342.5,246.6 343.0,247.3 343.5,248.0 344.0,248.4 344.5,249.1 345.0,249.6 345.5,250.4 346.0,251.1 346.5,251.1 347.0,252.3 347.5,252.9 348.0,253.5 348.5,253.8 349.0,254.8 349.5,255.6 350.0,255.5 350.5,256.5 351.0,257.4 351.5,257.9 352.0,258.7 352.0,263.6 351.5,263.5 351.0,262.7 350.5,262.0 350.0,261.4 349.5,260.3 349.0,260.2 348.5,259.8 348.0,258.5 347.5,257.9 347.0,257.2 346.5,256.8 346.0,255.9 345.5,255.6 345.0,255.2 344.5,254.6 344.0,253.6 343.5,252.9 343.0,252.4 342.5,252.1 342.0,251.1 341.5,250.8 341.0,249.9 340.5,249.2 340.0,249.0 339.5,248.0 339.0,247.7 338.5,247.1 338.0,246.4 337.5,245.6 337.0,245.1 336.5,244.7 336.0,243.8 335.5,243.2 335.0,242.7 334.5,242.0 334.0,241.6 333.5,240.8 333.0,240.2 332.5,239.8 332.0,239.0 331.5,238.4 331.0,238.0 330.5,237.2 330.0,236.7 329.5,236.0 329.0,235.6 328.5,234.8 328.0,234.4 327.5,233.5 327.0,232.9 326.5,232.6 326.0,231.8 325.5,231.2 325.0,230.5 324.5,230.0 324.0,229.5 323.5,228.9 323.0,228.2 322.5,227.7 322.0,227.0 321.5,226.5 321.0,225.8 320.5,225.3 320.0,224.7 319.5,224.2 319.0,223.5 318.5,222.9 318.0,222.4 317.5,221.7 317.0,221.2 316.5,220.6 316.0,220.1 315.5,219.5 315.0,218.9 314.5,218.3 314.0,217.8 313.5,217.2 313.0,216.7 312.5,216.1 312.0,215.5 311.5,215.0 311.0,214.5 310.5,213.9 310.0,213.3 309.5,212.7 309.0,212.2 308.5,211.6 308.0,211.1 307.5,210.6 307.0,210.0 306.5,209.4 306.0,208.9 305.5,208.3 305.0,207.8 304.5,207.3 304.0,206.8 303.5,206.2 303.0,205.7 302.5,205.1 302.0,204.6 301.5,204.1 301.0,203.5 300.5,203.1 300.0,202.5 298.0,200.4 296.0,198.4 294.0,196.4 292.0,194.5 290.0,192.6 288.0,190.7 286.0,188.8 284.0,186.9 282.0,185.1 280.0,183.3 278.0,181.5 276.0,179.8 274.0,178.0 272.0,176.3 270.0,174.6 268.0,173.0 266.0,171.4 264.0,169.8 262.0,168.2 260.0,166.6 258.0,165.1 256.0,163.6 254.0,162.1 252.0,160.6 250.0,159.1 248.0,157.7 246.0,156.3 244.0,154.9 242.0,153.5 240.0,152.1 238.0,150.7 236.0,149.4 234.0,148.1 232.0,146.8 230.0,145.5 228.0,144.2 226.0,142.9 224.0,141.7 222.0,140.5 220.0,139.2 218.0,138.1 216.0,136.9 214.0,135.7 212.0,134.6 210.0,133.4 208.0,132.3 206.0,131.2 204.0,130.1 202.0,129.0 200.0,127.9 198.0,126.8 196.0,125.7 194.0,124.6 192.0,123.6 190.0,122.5 188.0,121.4 186.0,120.3 184.0,119.3 182.0,118.2 180.0,117.2 178.0,116.2 176.0,115.1 174.0,114.1 172.0,113.1 170.0,112.1 168.0,111.1 166.0,110.0 164.0,109.0 162.0,108.0 160.0,107.0 158.0,106.1 156.0,105.1 154.0,104.1 152.0,103.2 150.0,102.2 148.0,101.2 146.0,100.3 144.0,99.3 142.0,98.4 140.0,97.4 138.0,96.5 136.0,95.5 134.0,94.6 132.0,93.7 130.0,92.7 128.0,91.8 126.0,90.9 124.0,89.9 122.0,89.0 120.0,88.1 118.0,87.2 116.0,86.3 114.0,85.4 112.0,84.5 110.0,83.6 108.0,82.7 106.0,81.9 104.0,81.0 102.0,80.1 100.0,79.3 98.0,78.5 96.0,77.6 94.0,76.8 92.0,76.0 90.0,75.2 88.0,74.4 86.0,73.7 84.0,72.9 82.0,72.2 80.0,71.4 78.0,70.7 76.0,70.0 74.0,69.4 72.0,68.7 70.0,68.1 68.0,67.5 66.0,66.9 64.0,66.4 62.0,65.8 60.0,65.3 58.0,64.9 56.0,64.4 54.0,64.0 52.0,63.6 50.0,63.3 48.0,63.0" fill="#9400d3"/>
<polygon points="166.0,108.2 168.0,109.1 170.0,109.9 172.0,110.8 174.0,111.6 176.0,112.5 178.0,113.3 180.0,114.2 182.0,115.0 184.0,115.9 186.0,116.7 188.0,117.7 190.0,118.7 192.0,119.7 194.0,120.7 196.0,121.8 198.0,122.8 200.0,123.9 202.0,125.0 204.0,126.0 206.0,127.1 208.0,128.2 210.0,129.3 212.0,130.4 214.0,131.6 216.0,132.7 218.0,133.9 220.0,135.0 222.0,136.2 224.0,137.4 226.0,138.6 228.0,139.8 230.0,141.1 232.0,142.3 234.0,143.6 236.0,144.8 238.0,146.1 240.0,147.4 242.0,148.8 244.0,150.1 246.0,151.5 248.0,152.9 250.0,154.3 252.0,155.7 254.0,157.1 256.0,158.6 258.0,160.1 260.0,161.6 262.0,163.1 264.0,164.6 266.0,166.2 268.0,167.8 270.0,169.4 272.0,171.0 274.0,172.6 276.0,174.3 278.0,176.0 280.0,177.7 282.0,179.5 284.0,181.2 286.0,183.0 288.0,184.8 290.0,186.6 292.0,188.5 294.0,190.4 296.0,192.3 298.0,194.2 300.0,196.1 300.5,196.6 301.0,197.1 301.5,197.5 302.0,198.0 302.5,198.5 303.0,199.0 303.5,199.5 304.0,200.0 304.5,200.5 305.0,201.0 305.5,201.5 306.0,202.0 306.5,202.5 307.0,203.0 307.5,203.5 308.0,204.0 308.5,204.5 309.0,205.0 309.5,205.5 310.0,206.0 310.5,206.5 311.0,207.0 311.5,207.5 312.0,208.0 312.5,208.5 313.0,209.1 313.5,209.6 314.0,210.1 314.5,210.6 315.0,211.1 315.5,211.7 316.0,212.2 316.5,212.7 317.0,213.2 317.5,213.8 318.0,214.3 318.5,214.8 319.0,215.4 319.5,215.9 320.0,216.4 320.5,217.0 321.0,217.5 321.5,218.1 322.0,218.6 322.5,219.1 323.0,219.7 323.5,220.2 324.0,220.8 324.5,221.3 325.0,221.9 325.5,222.4 326.0,223.0 326.5,223.5 327.0,224.1 327.5,224.7 328.0,225.2 328.5,225.8 329.0,226.3 329.5,226.9 330.0,227.5 330.5,228.0 331.0,228.6 331.5,229.2 332.0,229.8 332.5,230.4 333.0,231.0 333.5,231.5 334.0,232.1 334.5,232.7 335.0,233.3 335.5,233.9 336.0,234.5 336.5,235.1 337.0,235.7 337.5,236.3 338.0,236.9 338.5,237.5 339.0,238.1 339.5,238.7 340.0,239.3 340.5,239.9 341.0,240.5 341.5,241.1 342.0,241.7 342.5,242.3 343.0,242.9 343.5,243.5 344.0,244.1 344.5,244.8 345.0,245.4 345.5,246.0 346.0,246.6 346.5,247.2 347.0,247.8 347.5,248.4 348.0,249.1 348.5,249.7 349.0,250.3 349.5,250.9 350.0,251.6 350.5,252.2 351.0,252.8 351.5,253.4 352.0,254.1 352.0,261.1 351.5,260.5 351.0,259.8 350.5,259.2 350.0,258.6 349.5,258.0 349.0,257.3 348.5,256.7 348.0,256.1 347.5,255.4 347.0,254.8 346.5,254.2 346.0,253.6 345.5,253.0 345.0,252.3 344.5,251.7 344.0,251.1 343.5,250.5 343.0,249.9 342.5,249.3 342.0,248.6 341.5,248.0 341.0,247.4 340.5,246.8 340.0,246.2 339.5,245.6 339.0,245.0 338.5,244.4 338.0,243.8 337.5,243.2 337.0,242.6 336.5,242.0 336.0,241.4 335.5,240.8 335.0,240.2 334.5,239.6 334.0,239.0 333.5,238.4 333.0,237.8 332.5,237.2 332.0,236.6 331.5,236.0 331.0,235.4 330.5,234.9 330.0,234.3 329.5,233.7 329.0,233.1 328.5,232.5 328.0,231.9 327.5,231.3 327.0,230.7 326.5,230.1 326.0,229.5 325.5,228.9 325.0,228.3 324.5,227.8 324.0,227.2 323.5,226.6 323.0,226.0 322.5,225.4 322.0,224.9 321.5,224.3 321.0,223.7 320.5,223.1 320.0,222.6 319.5,222.0 319.0,221.4 318.5,220.8 318.0,220.3 317.5,219.7 317.0,219.2 316.5,218.6 316.0,218.0 315.5,217.5 315.0,216.9 314.5,216.4 314.0,215.8 313.5,215.2 313.0,214.7 312.5,214.1 312.0,213.6 311.5,213.0 311.0,212.5 310.5,211.9 310.0,211.4 309.5,210.9 309.0,210.3 308.5,209.8 308.0,209.2 307.5,208.7 307.0,208.2 306.5,207.6 306.0,207.1 305.5,206.6 305.0,206.0 304.5,205.5 304.0,205.0 303.5,204.5 303.0,203.9 302.5,203.4 302.0,202.9 301.5,202.4 301.0,201.9 300.5,201.4 300.0,200.8 298.0,198.8 296.0,196.8 294.0,194.9 292.0,193.0 290.0,191.1 288.0,189.2 286.0,187.3 284.0,185.5 282.0,183.7 280.0,181.9 278.0,180.1 276.0,178.4 274.0,176.7 272.0,175.0 270.0,173.3 268.0,171.7 266.0,170.1 264.0,168.5 262.0,166.9 260.0,165.4 258.0,163.8 256.0,162.3 254.0,160.8 252.0,159.4 250.0,157.9 248.0,156.5 246.0,155.1 244.0,153.7 242.0,152.3 240.0,150.9 238.0,149.6 236.0,148.3 234.0,147.0 232.0,145.7 230.0,144.4 228.0,143.1 226.0,141.9 224.0,140.7 222.0,139.4 220.0,138.2 218.0,137.1 216.0,135.9 214.0,134.7 212.0,133.6 210.0,132.5 208.0,131.3 206.0,130.2 204.0,129.1 202.0,128.0 200.0,126.9 198.0,125.9 196.0,124.8 194.0,123.7 192.0,122.7 190.0,121.6 188.0,120.5 186.0,119.5 184.0,118.3 182.0,117.1 180.0,116.0 178.0,114.8 176.0,113.7 174.0,112.6 172.0,111.5 170.0,110.4 168.0,109.3 166.0,108.2" fill="#9400d3"/>
<path d="M48.0,56.4 L369.5,173.9" stroke="#000" stroke-width="1.9" stroke-dasharray="6 4.4" fill="none"/>
</g>
<path d="M48.20,248.0 v-5.6 M48.20,43.5 v5.6 M75.95,248.0 v-2.8 M75.95,43.5 v2.8 M92.19,248.0 v-2.8 M92.19,43.5 v2.8 M103.71,248.0 v-2.8 M103.71,43.5 v2.8 M112.65,248.0 v-2.8 M112.65,43.5 v2.8 M119.95,248.0 v-2.8 M119.95,43.5 v2.8 M126.12,248.0 v-2.8 M126.12,43.5 v2.8 M131.46,248.0 v-2.8 M131.46,43.5 v2.8 M136.18,248.0 v-2.8 M136.18,43.5 v2.8 M140.40,248.0 v-5.6 M140.40,43.5 v5.6 M168.15,248.0 v-2.8 M168.15,43.5 v2.8 M184.39,248.0 v-2.8 M184.39,43.5 v2.8 M195.91,248.0 v-2.8 M195.91,43.5 v2.8 M204.85,248.0 v-2.8 M204.85,43.5 v2.8 M212.15,248.0 v-2.8 M212.15,43.5 v2.8 M218.32,248.0 v-2.8 M218.32,43.5 v2.8 M223.66,248.0 v-2.8 M223.66,43.5 v2.8 M228.38,248.0 v-2.8 M228.38,43.5 v2.8 M232.60,248.0 v-5.6 M232.60,43.5 v5.6 M260.35,248.0 v-2.8 M260.35,43.5 v2.8 M276.59,248.0 v-2.8 M276.59,43.5 v2.8 M288.11,248.0 v-2.8 M288.11,43.5 v2.8 M297.05,248.0 v-2.8 M297.05,43.5 v2.8 M304.35,248.0 v-2.8 M304.35,43.5 v2.8 M310.52,248.0 v-2.8 M310.52,43.5 v2.8 M315.86,248.0 v-2.8 M315.86,43.5 v2.8 M320.58,248.0 v-2.8 M320.58,43.5 v2.8 M324.80,248.0 v-5.6 M324.80,43.5 v5.6 M352.55,248.0 v-2.8 M352.55,43.5 v2.8 M368.79,248.0 v-2.8 M368.79,43.5 v2.8 M48.0,43.50 h5.6 M369.0,43.50 h-5.6 M48.0,111.67 h5.6 M369.0,111.67 h-5.6 M48.0,91.15 h2.8 M369.0,91.15 h-2.8 M48.0,79.14 h2.8 M369.0,79.14 h-2.8 M48.0,70.63 h2.8 M369.0,70.63 h-2.8 M48.0,64.02 h2.8 M369.0,64.02 h-2.8 M48.0,58.62 h2.8 M369.0,58.62 h-2.8 M48.0,54.06 h2.8 M369.0,54.06 h-2.8 M48.0,50.11 h2.8 M369.0,50.11 h-2.8 M48.0,46.62 h2.8 M369.0,46.62 h-2.8 M48.0,179.83 h5.6 M369.0,179.83 h-5.6 M48.0,159.31 h2.8 M369.0,159.31 h-2.8 M48.0,147.31 h2.8 M369.0,147.31 h-2.8 M48.0,138.79 h2.8 M369.0,138.79 h-2.8 M48.0,132.19 h2.8 M369.0,132.19 h-2.8 M48.0,126.79 h2.8 M369.0,126.79 h-2.8 M48.0,122.23 h2.8 M369.0,122.23 h-2.8 M48.0,118.27 h2.8 M369.0,118.27 h-2.8 M48.0,114.79 h2.8 M369.0,114.79 h-2.8 M48.0,248.00 h5.6 M369.0,248.00 h-5.6 M48.0,227.48 h2.8 M369.0,227.48 h-2.8 M48.0,215.48 h2.8 M369.0,215.48 h-2.8 M48.0,206.96 h2.8 M369.0,206.96 h-2.8 M48.0,200.35 h2.8 M369.0,200.35 h-2.8 M48.0,194.96 h2.8 M369.0,194.96 h-2.8 M48.0,190.39 h2.8 M369.0,190.39 h-2.8 M48.0,186.44 h2.8 M369.0,186.44 h-2.8 M48.0,182.95 h2.8 M369.0,182.95 h-2.8" stroke="#000" stroke-width="0.8" fill="none"/>
<rect x="48.0" y="43.5" width="321.0" height="204.5" fill="none" stroke="#000" stroke-width="1.15"/>
<g clip-path="url(#cp2)">
<polygon points="330.0,225.2 331.0,226.3 332.0,227.5 333.0,228.7 334.0,229.8 335.0,231.0 336.0,232.2 337.0,233.4 338.0,234.6 339.0,235.8 340.0,237.0 341.0,238.2 342.0,239.4 343.0,240.6 344.0,241.8 345.0,243.0 346.0,244.3 347.0,245.5 348.0,246.7 349.0,248.0 350.0,249.2 351.0,250.4 352.0,251.7 352.0,263.5 351.0,262.2 350.0,260.9 349.0,259.7 348.0,258.4 347.0,257.2 346.0,255.9 345.0,254.7 344.0,253.4 343.0,252.2 342.0,251.0 341.0,249.8 340.0,248.5 339.0,247.3 338.0,246.1 337.0,244.9 336.0,243.7 335.0,242.5 334.0,241.3 333.0,240.1 332.0,238.9 331.0,237.7 330.0,236.6" fill="#9400d3"/>
</g>
<text transform="translate(48.80,259.7) scale(0.955,1)" text-anchor="middle" class="tk">1</text>
<text transform="translate(141.00,259.7) scale(0.955,1)" text-anchor="middle" class="tk">10</text>
<text transform="translate(233.20,259.7) scale(0.955,1)" text-anchor="middle" class="tk">100</text>
<text transform="translate(325.40,259.7) scale(0.955,1)" text-anchor="middle" class="tk">1000</text>
<text transform="translate(45.9,48.20) scale(0.92,1)" text-anchor="end" class="tk">0.1</text>
<text transform="translate(45.9,116.37) scale(0.92,1)" text-anchor="end" class="tk">0.01</text>
<text transform="translate(45.9,184.53) scale(0.92,1)" text-anchor="end" class="tk">0.001</text>
<text transform="translate(45.9,252.70) scale(0.92,1)" text-anchor="end" class="tk">0.0001</text>
<path d="M65.3,104.25 H76.8" stroke="#ff00ff" stroke-width="1.4"/>
<text x="83" y="107.85" class="lg"><tspan font-style="italic">g</tspan> =1.90</text>
<path d="M65.3,119.86 H76.8" stroke="#ff0000" stroke-width="1.4"/>
<text x="83" y="123.46" class="lg"><tspan font-style="italic">g</tspan> =1.94</text>
<path d="M65.3,135.47 H76.8" stroke="#ffa500" stroke-width="1.4"/>
<text x="83" y="139.07" class="lg"><tspan font-style="italic">g</tspan> =1.95</text>
<path d="M65.3,151.08 H76.8" stroke="#00ff00" stroke-width="1.4"/>
<text x="83" y="154.68" class="lg"><tspan font-style="italic">g</tspan> =1.955</text>
<path d="M65.3,166.69 H76.8" stroke="#00ffff" stroke-width="1.4"/>
<text x="83" y="170.29" class="lg"><tspan font-style="italic">g</tspan> =1.96</text>
<path d="M65.3,182.30 H76.8" stroke="#0000ff" stroke-width="1.4"/>
<text x="83" y="185.90" class="lg"><tspan font-style="italic">g</tspan> =1.97</text>
<path d="M65.3,197.91 H76.8" stroke="#7221bc" stroke-width="1.4"/>
<text x="83" y="201.51" class="lg"><tspan font-style="italic">g</tspan> =1.98</text>
<path d="M65.3,213.52 H76.8" stroke="#9400d3" stroke-width="1.4"/>
<text x="83" y="217.12" class="lg"><tspan font-style="italic">g</tspan> =2.00</text>
<path d="M65.5,232.4 H77" stroke="#000" stroke-width="1.9" stroke-dasharray="7 3.4"/>
<text y="237.50" class="lg"><tspan x="83.6" dy="2.3">~</tspan><tspan x="90.9" dy="-2.0" font-size="16">ζ</tspan><tspan x="98.2" dy="-8.0" font-size="10.3">-1/2</tspan></text>
<text x="267.8" y="67.8" class="lg" style="font-size:14.2px"><tspan font-style="italic">L</tspan> = 8000</text>
<text x="267.8" y="84.5" class="lg" style="font-size:14.2px"><tspan font-style="italic">T</tspan> = 0.0056</text>
<text y="273.8" class="ax"><tspan x="144.4" font-size="15">ζ</tspan><tspan x="150.6">(</tspan><tspan font-style="italic">r</tspan>)<tspan x="168.2">=</tspan><tspan x="180.8">sin(</tspan><tspan x="203.6" font-style="italic">r</tspan><tspan x="211.3" font-size="16">π</tspan><tspan x="223.2">/</tspan><tspan x="230.6" font-style="italic">L</tspan><tspan x="239.3">)</tspan><tspan x="246.9" font-style="italic">L</tspan><tspan x="258.9">/</tspan><tspan x="265.2" font-size="16">π</tspan></text>
<text transform="translate(21.8,145.5) rotate(-90)" text-anchor="middle" style="font-size:12px"><tspan font-style="italic">C</tspan>(<tspan font-style="italic">r</tspan>)</text>
</svg>
</body></html>
